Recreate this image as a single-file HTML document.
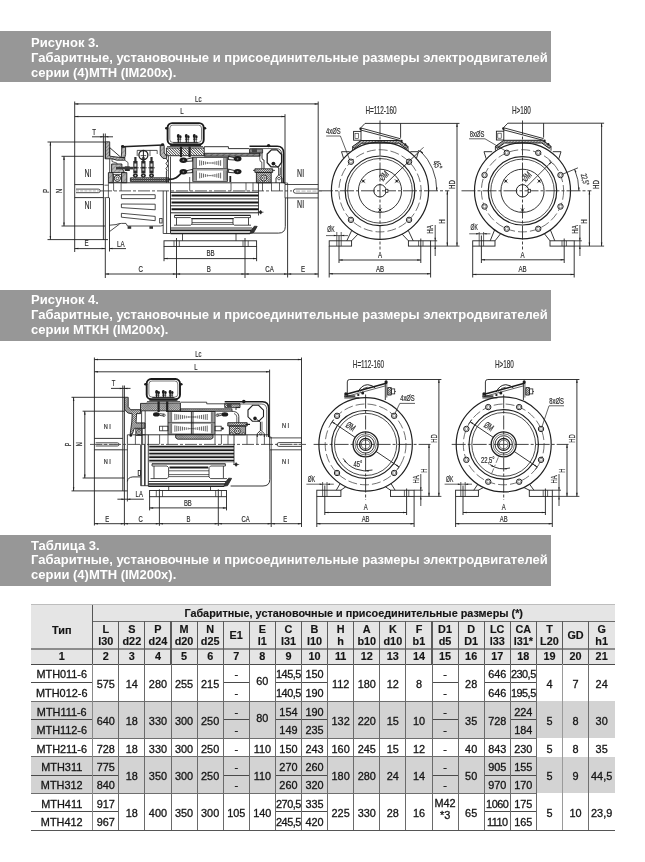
<!DOCTYPE html>
<html><head><meta charset="utf-8">
<style>
html,body{margin:0;padding:0;background:#fff;}
body{width:645px;height:862px;position:relative;overflow:hidden;font-family:"Liberation Sans",sans-serif;}
.bar{will-change:transform;position:absolute;left:0;width:551px;height:51px;background:#979797;color:#fff;font-weight:bold;font-size:13px;line-height:14.75px;}
.bar div{position:absolute;left:31px;top:4.6px;white-space:nowrap;}
.r{position:absolute;}
.c{position:absolute;display:flex;align-items:center;justify-content:center;text-align:center;font-size:10.9px;line-height:12.6px;color:#151515;white-space:nowrap;-webkit-text-stroke:0.3px #151515;}
.c.b{font-weight:bold;font-size:10.85px;line-height:11.7px;-webkit-text-stroke:0.15px #151515;}
.c.n{letter-spacing:-0.5px;}
</style></head><body>
<div class="bar" style="top:31px"><div style="top:5.2px">Рисунок 3.<br>Габаритные, установочные и присоединительные размеры электродвигателей<br>серии (4)МТН (IM200x).</div></div>
<div class="bar" style="top:289.5px"><div style="top:3.4px">Рисунок 4.<br>Габаритные, установочные и присоединительные размеры электродвигателей<br>серии МТКН (IM200x).</div></div>
<div class="bar" style="top:535px"><div style="top:3.5px">Таблица 3.<br>Габаритные, установочные и присоединительные размеры электродвигателей<br>серии (4)МТН (IM200x).</div></div>
<!--SV0--><svg width="645" height="862" viewBox="0 0 645 862" style="position:absolute;left:0;top:0;will-change:transform" font-family="Liberation Sans, sans-serif" stroke-linecap="butt"><defs><clipPath id="h1"><path d="M105.3 141.8 L109.7 141.8 L109.7 156.2 L121.2 157.6 L124.8 157.6 L124.8 160.2 L117 160.2 L112 158.8 L105.3 158.8 Z"/></clipPath><clipPath id="h2"><path d="M121.7 147.2 L125.6 147.2 L125.6 154.5 L124.8 157.6 L121.2 157.6 L121.7 152 Z"/></clipPath><clipPath id="h3"><path d="M160.2 145.6 L164.2 145.4 L164.2 153 L166.6 156 L166.6 158.4 L163 158.4 L160.2 155 Z"/></clipPath><clipPath id="h4"><path d="M130.4 177.8 L168.9 177.8 L168.9 181.6 L130.4 181.6 Z"/></clipPath><clipPath id="h5"><path d="M111.6 164 L121.9 164 L121.9 168 L124.5 172.6 L120.5 172.6 L111.6 172.6 Z"/></clipPath><clipPath id="h6"><path d="M108.4 172.6 L113 172.6 L113 182.7 L108.4 182.7 Z"/></clipPath><clipPath id="h7"><path d="M121.6 172.6 L126.8 172.6 L126.8 182.7 L121.6 182.7 Z"/></clipPath><clipPath id="h8"><path d="M166.4 148 L204.2 148 L204.2 155.7 L166.4 155.7 Z"/></clipPath><clipPath id="h9"><path d="M204.2 153.3 L260 153.3 L260 156.2 L204.2 156.2 Z"/></clipPath><clipPath id="h10"><path d="M249.5 149.2 L262.6 149.2 L262.6 153 L249.5 153 Z"/></clipPath><clipPath id="h11"><path d="M254.9 168.8 L272.7 168.8 L272.7 172.4 L254.9 172.4 Z"/></clipPath><clipPath id="h12"><path d="M256.4 172.4 L271.2 172.4 L271.2 182.8 L256.4 182.8 Z"/></clipPath><clipPath id="h13"><path d="M352.6 146.5 L361 140.5 L399.6 140.5 L408 146.5 L406.4 148.7 L398.8 143.2 L361.8 143.2 L354.2 148.7 Z"/></clipPath><clipPath id="h14"><path d="M495.4 146.3 L503.8 140.3 L542.6 140.3 L551 146.3 L549.4 148.5 L541.8 143 L504.6 143 L497 148.5 Z"/></clipPath><clipPath id="h15"><path d="M124.4 397.3 L128.2 397.3 L128.2 406.6 L130.6 409.7 L140.6 409.7 L140.6 413.6 L136.6 413.6 L136 422.9 L145 422.9 L145 428.3 L134.2 428.3 L132.4 433.8 L130.2 433.8 L131.8 422 L132.2 413.8 L128 413 L124.4 409.6 Z"/></clipPath><clipPath id="h16"><path d="M140.5 403.4 L146.4 403.4 L146.4 403 L180.4 403 L180.4 410.8 L140.5 410.8 Z"/></clipPath><clipPath id="h17"><path d="M180.4 408.8 L232 408.8 L232 411.3 L180.4 411.3 Z"/></clipPath><clipPath id="h18"><path d="M175.7 434.6 L213 434.6 L213 437.8 L211 439.2 L177.6 439.2 L175.7 437.8 Z"/></clipPath><clipPath id="h19"><path d="M224.7 403.6 L240 403.6 L240 407.6 L224.7 407.6 Z"/></clipPath><clipPath id="h20"><path d="M227.8 422.7 L247.2 422.7 L247.2 426 L227.8 426 Z"/></clipPath><clipPath id="h21"><path d="M229.4 426 L245.6 426 L245.6 434.8 L229.4 434.8 Z"/></clipPath><clipPath id="h22"><path d="M387.7 387.5 L391.3 387.5 L391.3 395.1 L387.7 395.1 Z"/></clipPath><clipPath id="h23"><path d="M525.8 387.5 L529.4 387.5 L529.4 395.1 L525.8 395.1 Z"/></clipPath></defs>
<line x1="74.7" y1="101.5" x2="74.7" y2="252" stroke="#202020" stroke-width="0.9"/>
<line x1="285" y1="114.2" x2="285" y2="184.4" stroke="#202020" stroke-width="0.9"/>
<line x1="287.6" y1="198" x2="287.6" y2="277.5" stroke="#202020" stroke-width="0.9"/>
<line x1="318.2" y1="101.5" x2="318.2" y2="277.5" stroke="#202020" stroke-width="0.9"/>
<line x1="74.7" y1="103.9" x2="318.2" y2="103.9" stroke="#202020" stroke-width="0.9"/>
<path d="M74.7 103.9 L78.3 103.15 L78.3 104.65 Z" fill="#202020"/>
<path d="M318.2 103.9 L314.6 104.65 L314.6 103.15 Z" fill="#202020"/>
<line x1="74.7" y1="116.6" x2="285" y2="116.6" stroke="#202020" stroke-width="0.9"/>
<path d="M74.7 116.6 L78.3 115.85 L78.3 117.35 Z" fill="#202020"/>
<path d="M285 116.6 L281.4 117.35 L281.4 115.85 Z" fill="#202020"/>
<text transform="translate(198.3 102) rotate(0) scale(0.64 1)" font-size="9.6" fill="#303030" stroke="#303030" stroke-width="0.22" text-anchor="middle" font-weight="normal">Lc</text>
<text transform="translate(182 113.8) rotate(0) scale(0.64 1)" font-size="9.6" fill="#303030" stroke="#303030" stroke-width="0.22" text-anchor="middle" font-weight="normal">L</text>
<line x1="92" y1="136.8" x2="113" y2="136.8" stroke="#202020" stroke-width="0.9"/>
<path d="M103.4 136.8 L100.4 137.55 L100.4 136.05 Z" fill="#202020"/>
<path d="M105.3 136.8 L108.3 136.05 L108.3 137.55 Z" fill="#202020"/>
<text transform="translate(94.2 134.8) rotate(0) scale(0.64 1)" font-size="9.6" fill="#303030" stroke="#303030" stroke-width="0.22" text-anchor="middle" font-weight="normal">T</text>
<line x1="103.4" y1="133.5" x2="103.4" y2="240" stroke="#202020" stroke-width="0.9"/>
<line x1="105.3" y1="133.5" x2="105.3" y2="158.8" stroke="#202020" stroke-width="0.9"/>
<line x1="47.5" y1="142" x2="105" y2="142" stroke="#202020" stroke-width="0.9"/>
<line x1="47.5" y1="239.6" x2="108" y2="239.6" stroke="#202020" stroke-width="0.9"/>
<line x1="50.4" y1="142" x2="50.4" y2="239.6" stroke="#202020" stroke-width="0.9"/>
<path d="M50.4 142 L51.15 145.6 L49.65 145.6 Z" fill="#202020"/>
<path d="M50.4 239.6 L49.65 236 L51.15 236 Z" fill="#202020"/>
<line x1="61.5" y1="156.3" x2="103.4" y2="156.3" stroke="#202020" stroke-width="0.9"/>
<line x1="61.5" y1="226" x2="105" y2="226" stroke="#202020" stroke-width="0.9"/>
<line x1="64" y1="156.3" x2="64" y2="226" stroke="#202020" stroke-width="0.9"/>
<path d="M64 156.3 L64.75 159.9 L63.25 159.9 Z" fill="#202020"/>
<path d="M64 226 L63.25 222.4 L64.75 222.4 Z" fill="#202020"/>
<text transform="translate(48.6 191) rotate(-90) scale(0.64 1)" font-size="9.6" fill="#303030" stroke="#303030" stroke-width="0.22" text-anchor="middle" font-weight="normal">P</text>
<text transform="translate(62.4 191) rotate(-90) scale(0.64 1)" font-size="9.6" fill="#303030" stroke="#303030" stroke-width="0.22" text-anchor="middle" font-weight="normal">N</text>
<line x1="74.7" y1="184.6" x2="103.4" y2="184.6" stroke="#202020" stroke-width="0.9"/>
<line x1="74.7" y1="197.6" x2="103.4" y2="197.6" stroke="#202020" stroke-width="0.9"/>
<path d="M76 189.1 L98.4 189.1 A1.8 1.8 0 0 1 98.4 192.7 L76 192.7" stroke="#202020" stroke-width="0.8" fill="none" />
<line x1="76" y1="190.9" x2="99" y2="190.9" stroke="#666" stroke-width="0.5" stroke-dasharray="3 1.2"/>
<text transform="translate(88 177.2) rotate(0) scale(0.64 1)" font-size="11" fill="#303030" stroke="#303030" stroke-width="0.22" text-anchor="middle" font-weight="normal">NI</text>
<text transform="translate(88 208.6) rotate(0) scale(0.64 1)" font-size="11" fill="#303030" stroke="#303030" stroke-width="0.22" text-anchor="middle" font-weight="normal">NI</text>
<text transform="translate(300.6 177.2) rotate(0) scale(0.64 1)" font-size="11" fill="#303030" stroke="#303030" stroke-width="0.22" text-anchor="middle" font-weight="normal">NI</text>
<text transform="translate(300.6 208.4) rotate(0) scale(0.64 1)" font-size="11" fill="#303030" stroke="#303030" stroke-width="0.22" text-anchor="middle" font-weight="normal">NI</text>
<line x1="100" y1="190.9" x2="292" y2="190.9" stroke="#444" stroke-width="0.9" stroke-dasharray="12 2 3 2"/>
<path clip-path="url(#h1)" d="M86.9 160.2 L105.3 141.8 M88.3 160.2 L106.7 141.8 M89.7 160.2 L108.1 141.8 M91.1 160.2 L109.5 141.8 M92.5 160.2 L110.9 141.8 M93.9 160.2 L112.3 141.8 M95.3 160.2 L113.7 141.8 M96.7 160.2 L115.1 141.8 M98.1 160.2 L116.5 141.8 M99.5 160.2 L117.9 141.8 M100.9 160.2 L119.3 141.8 M102.3 160.2 L120.7 141.8 M103.7 160.2 L122.1 141.8 M105.1 160.2 L123.5 141.8 M106.5 160.2 L124.9 141.8 M107.9 160.2 L126.3 141.8 M109.3 160.2 L127.7 141.8 M110.7 160.2 L129.1 141.8 M112.1 160.2 L130.5 141.8 M113.5 160.2 L131.9 141.8 M114.9 160.2 L133.3 141.8 M116.3 160.2 L134.7 141.8 M117.7 160.2 L136.1 141.8 M119.1 160.2 L137.5 141.8 M120.5 160.2 L138.9 141.8 M121.9 160.2 L140.3 141.8 M123.3 160.2 L141.7 141.8 M124.7 160.2 L143.1 141.8 M126.1 160.2 L144.5 141.8 M127.5 160.2 L145.9 141.8 M128.9 160.2 L147.3 141.8 M130.3 160.2 L148.7 141.8 M131.7 160.2 L150.1 141.8 M133.1 160.2 L151.5 141.8 M134.5 160.2 L152.9 141.8 M135.9 160.2 L154.3 141.8 M137.3 160.2 L155.7 141.8 M138.7 160.2 L157.1 141.8 M140.1 160.2 L158.5 141.8 M141.5 160.2 L159.9 141.8 M142.9 160.2 L161.3 141.8" stroke="#202020" stroke-width="0.6" fill="none"/>
<path d="M105.3 141.8 L109.7 141.8 L109.7 156.2 L121.2 157.6 L124.8 157.6 L124.8 160.2 L117 160.2 L112 158.8 L105.3 158.8 Z" stroke="#202020" stroke-width="0.9" fill="none" />
<line x1="109.7" y1="147.6" x2="121.2" y2="157.6" stroke="#202020" stroke-width="0.9"/>
<line x1="109.7" y1="147.6" x2="109.7" y2="156" stroke="#202020" stroke-width="0.7"/>
<line x1="121.7" y1="146.7" x2="163.3" y2="144.9" stroke="#202020" stroke-width="1.5"/>
<ellipse cx="122.6" cy="146.3" rx="1.6" ry="1.2" fill="#1c1c1c"/>
<ellipse cx="162.6" cy="144.4" rx="1.6" ry="1.2" fill="#1c1c1c"/>
<path clip-path="url(#h2)" d="M110.8 157.6 L121.2 147.2 M112.1 157.6 L122.5 147.2 M113.4 157.6 L123.8 147.2 M114.7 157.6 L125.1 147.2 M116 157.6 L126.4 147.2 M117.3 157.6 L127.7 147.2 M118.6 157.6 L129 147.2 M119.9 157.6 L130.3 147.2 M121.2 157.6 L131.6 147.2 M122.5 157.6 L132.9 147.2 M123.8 157.6 L134.2 147.2 M125.1 157.6 L135.5 147.2 M126.4 157.6 L136.8 147.2 M127.7 157.6 L138.1 147.2 M129 157.6 L139.4 147.2 M130.3 157.6 L140.7 147.2 M131.6 157.6 L142 147.2 M132.9 157.6 L143.3 147.2 M134.2 157.6 L144.6 147.2 M135.5 157.6 L145.9 147.2" stroke="#202020" stroke-width="0.5" fill="none"/>
<path d="M121.7 147.2 L125.6 147.2 L125.6 154.5 L124.8 157.6 L121.2 157.6 L121.7 152 Z" stroke="#202020" stroke-width="0.9" fill="none" />
<path clip-path="url(#h3)" d="M147.2 158.4 L160.2 145.4 M148.5 158.4 L161.5 145.4 M149.8 158.4 L162.8 145.4 M151.1 158.4 L164.1 145.4 M152.4 158.4 L165.4 145.4 M153.7 158.4 L166.7 145.4 M155 158.4 L168 145.4 M156.3 158.4 L169.3 145.4 M157.6 158.4 L170.6 145.4 M158.9 158.4 L171.9 145.4 M160.2 158.4 L173.2 145.4 M161.5 158.4 L174.5 145.4 M162.8 158.4 L175.8 145.4 M164.1 158.4 L177.1 145.4 M165.4 158.4 L178.4 145.4 M166.7 158.4 L179.7 145.4 M168 158.4 L181 145.4 M169.3 158.4 L182.3 145.4 M170.6 158.4 L183.6 145.4 M171.9 158.4 L184.9 145.4 M173.2 158.4 L186.2 145.4 M174.5 158.4 L187.5 145.4 M175.8 158.4 L188.8 145.4 M177.1 158.4 L190.1 145.4 M178.4 158.4 L191.4 145.4" stroke="#202020" stroke-width="0.5" fill="none"/>
<path d="M160.2 145.6 L164.2 145.4 L164.2 153 L166.6 156 L166.6 158.4 L163 158.4 L160.2 155 Z" stroke="#202020" stroke-width="0.9" fill="none" />
<path d="M166.2 158.4 L167.8 161 L166 163.5 L167.8 166 L166 168.5 L167.2 171" stroke="#202020" stroke-width="0.9" fill="none" />
<line x1="166.4" y1="171" x2="166.4" y2="182.7" stroke="#202020" stroke-width="0.9"/>
<line x1="168.4" y1="156" x2="168.4" y2="182.7" stroke="#202020" stroke-width="0.8"/>
<line x1="137.2" y1="150.4" x2="157.2" y2="150.4" stroke="#202020" stroke-width="0.8"/>
<line x1="137.2" y1="150.4" x2="137.2" y2="156" stroke="#202020" stroke-width="0.7"/>
<line x1="150" y1="150.4" x2="150" y2="156" stroke="#202020" stroke-width="0.7"/>
<line x1="157.2" y1="150.4" x2="157.2" y2="154" stroke="#202020" stroke-width="0.7"/>
<circle cx="143.4" cy="155" r="4.5" stroke="#202020" stroke-width="1.3" fill="#fff"/>
<line x1="143.4" y1="150.4" x2="143.4" y2="162" stroke="#202020" stroke-width="1.0"/>
<line x1="140.6" y1="155.6" x2="146.2" y2="155.6" stroke="#202020" stroke-width="0.7"/>
<rect x="133.3" y="161" width="4.2" height="12.5" fill="#2a2a2a"/>
<rect x="134.3" y="157" width="2.2" height="4.5" fill="#2a2a2a"/>
<rect x="134.4" y="163.5" width="2" height="3.2" fill="#ddd"/>
<rect x="134.4" y="168.5" width="2" height="2.2" fill="#bbb"/>
<line x1="132" y1="167.8" x2="138.8" y2="167.8" stroke="#202020" stroke-width="0.7"/>
<ellipse cx="135.4" cy="175.6" rx="2.5" ry="2.1" fill="#1c1c1c"/>
<circle cx="135.4" cy="175.6" r="0.9" fill="#ccc"/>
<rect x="141.3" y="161" width="4.2" height="12.5" fill="#2a2a2a"/>
<rect x="142.3" y="157" width="2.2" height="4.5" fill="#2a2a2a"/>
<rect x="142.4" y="163.5" width="2" height="3.2" fill="#ddd"/>
<rect x="142.4" y="168.5" width="2" height="2.2" fill="#bbb"/>
<line x1="140" y1="167.8" x2="146.8" y2="167.8" stroke="#202020" stroke-width="0.7"/>
<ellipse cx="143.4" cy="175.6" rx="2.5" ry="2.1" fill="#1c1c1c"/>
<circle cx="143.4" cy="175.6" r="0.9" fill="#ccc"/>
<rect x="149.4" y="161" width="4.2" height="12.5" fill="#2a2a2a"/>
<rect x="150.4" y="157" width="2.2" height="4.5" fill="#2a2a2a"/>
<rect x="150.5" y="163.5" width="2" height="3.2" fill="#ddd"/>
<rect x="150.5" y="168.5" width="2" height="2.2" fill="#bbb"/>
<line x1="148.1" y1="167.8" x2="154.9" y2="167.8" stroke="#202020" stroke-width="0.7"/>
<ellipse cx="151.5" cy="175.6" rx="2.5" ry="2.1" fill="#1c1c1c"/>
<circle cx="151.5" cy="175.6" r="0.9" fill="#ccc"/>
<path clip-path="url(#h4)" d="M126.6 181.6 L130.4 177.8 M126.6 177.8 L130.4 181.6 M128.5 181.6 L132.3 177.8 M128.5 177.8 L132.3 181.6 M130.4 181.6 L134.2 177.8 M130.4 177.8 L134.2 181.6 M132.3 181.6 L136.1 177.8 M132.3 177.8 L136.1 181.6 M134.2 181.6 L138 177.8 M134.2 177.8 L138 181.6 M136.1 181.6 L139.9 177.8 M136.1 177.8 L139.9 181.6 M138 181.6 L141.8 177.8 M138 177.8 L141.8 181.6 M139.9 181.6 L143.7 177.8 M139.9 177.8 L143.7 181.6 M141.8 181.6 L145.6 177.8 M141.8 177.8 L145.6 181.6 M143.7 181.6 L147.5 177.8 M143.7 177.8 L147.5 181.6 M145.6 181.6 L149.4 177.8 M145.6 177.8 L149.4 181.6 M147.5 181.6 L151.3 177.8 M147.5 177.8 L151.3 181.6 M149.4 181.6 L153.2 177.8 M149.4 177.8 L153.2 181.6 M151.3 181.6 L155.1 177.8 M151.3 177.8 L155.1 181.6 M153.2 181.6 L157 177.8 M153.2 177.8 L157 181.6 M155.1 181.6 L158.9 177.8 M155.1 177.8 L158.9 181.6 M157 181.6 L160.8 177.8 M157 177.8 L160.8 181.6 M158.9 181.6 L162.7 177.8 M158.9 177.8 L162.7 181.6 M160.8 181.6 L164.6 177.8 M160.8 177.8 L164.6 181.6 M162.7 181.6 L166.5 177.8 M162.7 177.8 L166.5 181.6 M164.6 181.6 L168.4 177.8 M164.6 177.8 L168.4 181.6 M166.5 181.6 L170.3 177.8 M166.5 177.8 L170.3 181.6 M168.4 181.6 L172.2 177.8 M168.4 177.8 L172.2 181.6 M170.3 181.6 L174.1 177.8 M170.3 177.8 L174.1 181.6 M172.2 181.6 L176 177.8 M172.2 177.8 L176 181.6" stroke="#202020" stroke-width="0.5" fill="none"/>
<path d="M130.4 177.8 L168.9 177.8 L168.9 181.6 L130.4 181.6 Z" stroke="#202020" stroke-width="0.9" fill="none" />
<line x1="130.4" y1="179.7" x2="168.9" y2="179.7" stroke="#202020" stroke-width="1.1"/>
<path d="M168.9 179.4 C176 179.2 178 176.5 181.5 172.8" stroke="#1a1a1a" stroke-width="1.7" fill="none" />
<path clip-path="url(#h5)" d="M103 172.6 L111.6 164 M104.3 172.6 L112.9 164 M105.6 172.6 L114.2 164 M106.9 172.6 L115.5 164 M108.2 172.6 L116.8 164 M109.5 172.6 L118.1 164 M110.8 172.6 L119.4 164 M112.1 172.6 L120.7 164 M113.4 172.6 L122 164 M114.7 172.6 L123.3 164 M116 172.6 L124.6 164 M117.3 172.6 L125.9 164 M118.6 172.6 L127.2 164 M119.9 172.6 L128.5 164 M121.2 172.6 L129.8 164 M122.5 172.6 L131.1 164 M123.8 172.6 L132.4 164 M125.1 172.6 L133.7 164 M126.4 172.6 L135 164 M127.7 172.6 L136.3 164 M129 172.6 L137.6 164 M130.3 172.6 L138.9 164 M131.6 172.6 L140.2 164 M132.9 172.6 L141.5 164" stroke="#202020" stroke-width="0.5" fill="none"/>
<path d="M111.6 164 L121.9 164 L121.9 168 L124.5 172.6 L120.5 172.6 L111.6 172.6 Z" stroke="#202020" stroke-width="0.9" fill="none" />
<path clip-path="url(#h6)" d="M98.3 182.7 L108.4 172.6 M99.5 182.7 L109.6 172.6 M100.7 182.7 L110.8 172.6 M101.9 182.7 L112 172.6 M103.1 182.7 L113.2 172.6 M104.3 182.7 L114.4 172.6 M105.5 182.7 L115.6 172.6 M106.7 182.7 L116.8 172.6 M107.9 182.7 L118 172.6 M109.1 182.7 L119.2 172.6 M110.3 182.7 L120.4 172.6 M111.5 182.7 L121.6 172.6 M112.7 182.7 L122.8 172.6 M113.9 182.7 L124 172.6 M115.1 182.7 L125.2 172.6 M116.3 182.7 L126.4 172.6 M117.5 182.7 L127.6 172.6 M118.7 182.7 L128.8 172.6 M119.9 182.7 L130 172.6 M121.1 182.7 L131.2 172.6 M122.3 182.7 L132.4 172.6" stroke="#202020" stroke-width="0.5" fill="none"/>
<path d="M108.4 172.6 L113 172.6 L113 182.7 L108.4 182.7 Z" stroke="#202020" stroke-width="0.9" fill="none" />
<path clip-path="url(#h7)" d="M111.5 182.7 L121.6 172.6 M112.7 182.7 L122.8 172.6 M113.9 182.7 L124 172.6 M115.1 182.7 L125.2 172.6 M116.3 182.7 L126.4 172.6 M117.5 182.7 L127.6 172.6 M118.7 182.7 L128.8 172.6 M119.9 182.7 L130 172.6 M121.1 182.7 L131.2 172.6 M122.3 182.7 L132.4 172.6 M123.5 182.7 L133.6 172.6 M124.7 182.7 L134.8 172.6 M125.9 182.7 L136 172.6 M127.1 182.7 L137.2 172.6 M128.3 182.7 L138.4 172.6 M129.5 182.7 L139.6 172.6 M130.7 182.7 L140.8 172.6 M131.9 182.7 L142 172.6 M133.1 182.7 L143.2 172.6 M134.3 182.7 L144.4 172.6 M135.5 182.7 L145.6 172.6 M136.7 182.7 L146.8 172.6" stroke="#202020" stroke-width="0.5" fill="none"/>
<path d="M121.6 172.6 L126.8 172.6 L126.8 182.7 L121.6 182.7 Z" stroke="#202020" stroke-width="0.9" fill="none" />
<circle cx="117.4" cy="178.3" r="3.1" stroke="#202020" stroke-width="1.0" fill="none"/>
<circle cx="117.4" cy="178.3" r="1.4" stroke="#202020" stroke-width="0.8" fill="none"/>
<rect x="113.4" y="174.4" width="8" height="7.8" stroke="#202020" stroke-width="0.7" fill="none"/>
<rect x="124.8" y="166.4" width="5" height="4.6" fill="#2a2a2a"/>
<rect x="116" y="166.8" width="17" height="2.6" fill="#3a3a3a"/>
<line x1="109.7" y1="158.8" x2="109.7" y2="172.6" stroke="#202020" stroke-width="0.8"/>
<path d="M112 158.8 L112 161.5 L117 163.2 L117 164" stroke="#202020" stroke-width="0.7" fill="none" />
<line x1="124.8" y1="160.2" x2="128" y2="162.5" stroke="#202020" stroke-width="0.7"/>
<line x1="128" y1="162.5" x2="128" y2="166.8" stroke="#202020" stroke-width="0.7"/>
<line x1="108.4" y1="182.8" x2="285" y2="182.8" stroke="#202020" stroke-width="0.9"/>
<line x1="113.6" y1="182.8" x2="113.6" y2="190.9" stroke="#202020" stroke-width="0.7"/>
<line x1="121.1" y1="182.8" x2="121.1" y2="190.9" stroke="#202020" stroke-width="0.7"/>
<line x1="104.4" y1="185.2" x2="108.4" y2="185.2" stroke="#202020" stroke-width="0.7"/>
<line x1="108.4" y1="182.8" x2="108.4" y2="198" stroke="#202020" stroke-width="0.7"/>
<line x1="105.3" y1="198" x2="105.3" y2="278" stroke="#202020" stroke-width="0.9"/>
<line x1="109.5" y1="198" x2="109.5" y2="251.5" stroke="#202020" stroke-width="0.9"/>
<line x1="104.4" y1="197.6" x2="109.5" y2="197.6" stroke="#202020" stroke-width="0.7"/>
<path d="M121.4 194.7 L155.2 194.7 L155.2 198.6 L121.4 198.6 Z" stroke="#202020" stroke-width="0.8" fill="none" />
<path d="M121.4 204 L155.2 204.2 L155.2 209.8 L121.4 207.6 Z" stroke="#202020" stroke-width="0.8" fill="none" />
<path d="M121.4 213.3 L155.2 216.4 L155.2 220.7 L121.4 217.2 Z" stroke="#202020" stroke-width="0.8" fill="none" />
<path d="M109.5 225.2 L116 224.6 Q119 223.4 121.5 223.4 L126 223.4 L127.5 226 L160.5 226 L163.2 225.4" stroke="#202020" stroke-width="0.8" fill="none" />
<line x1="109.5" y1="231.6" x2="119.6" y2="224" stroke="#202020" stroke-width="0.8"/>
<rect x="127.6" y="226.2" width="3.6" height="2.6" fill="#333"/>
<rect x="149.4" y="226.2" width="3.6" height="2.6" fill="#333"/>
<rect x="159.7" y="218.4" width="2.4" height="4.6" stroke="#202020" stroke-width="0.8" fill="none"/>
<line x1="163.2" y1="190.9" x2="163.2" y2="233.5" stroke="#202020" stroke-width="0.8"/>
<line x1="166.6" y1="190.9" x2="166.6" y2="233.5" stroke="#202020" stroke-width="0.8"/>
<line x1="163.2" y1="233.5" x2="170.5" y2="233.5" stroke="#202020" stroke-width="0.8"/>
<line x1="170.5" y1="183" x2="170.5" y2="233.5" stroke="#202020" stroke-width="0.9"/>
<line x1="170.5" y1="192.3" x2="258.5" y2="192.3" stroke="#202020" stroke-width="1.0"/>
<line x1="170.5" y1="198.9" x2="258.5" y2="198.9" stroke="#202020" stroke-width="1.0"/>
<line x1="170.5" y1="205.8" x2="258.5" y2="205.8" stroke="#202020" stroke-width="1.0"/>
<line x1="170.5" y1="212.8" x2="258.5" y2="212.8" stroke="#202020" stroke-width="1.0"/>
<line x1="171.5" y1="195.6" x2="258.5" y2="195.6" stroke="#161616" stroke-width="2.0"/>
<line x1="171.5" y1="202.4" x2="258.5" y2="202.4" stroke="#161616" stroke-width="2.0"/>
<line x1="171.5" y1="209.2" x2="258.5" y2="209.2" stroke="#161616" stroke-width="2.0"/>
<line x1="258.5" y1="183" x2="258.5" y2="215.5" stroke="#202020" stroke-width="0.8"/>
<line x1="174.5" y1="215.4" x2="250.5" y2="215.4" stroke="#202020" stroke-width="1.3"/>
<path d="M174.5 215.4 V217.6 H176.5 V225.2 H174 M176.5 217.6 H190.5 L192 219 V224 L190.5 225.2 H176.5" stroke="#202020" stroke-width="0.8" fill="none" />
<path d="M250.5 215.4 V217.6 H248.5 V225.2 H251 M248.5 217.6 H234.5 L233 219 V224 L234.5 225.2 H248.5" stroke="#202020" stroke-width="0.8" fill="none" />
<line x1="192" y1="218.6" x2="233" y2="218.6" stroke="#202020" stroke-width="1.1"/>
<line x1="192" y1="222.6" x2="233" y2="222.6" stroke="#202020" stroke-width="0.7"/>
<line x1="192" y1="224.4" x2="233" y2="224.4" stroke="#202020" stroke-width="0.7"/>
<line x1="170.5" y1="228" x2="252" y2="228" stroke="#202020" stroke-width="0.9"/>
<line x1="170.5" y1="230.4" x2="251" y2="230.4" stroke="#202020" stroke-width="1.6"/>
<line x1="170.5" y1="233.5" x2="250" y2="233.5" stroke="#202020" stroke-width="1.7"/>
<path d="M250 233.5 L253.3 233.1 L257.2 226.4 L254.4 226.2 L251 230.4 Z" stroke="#202020" stroke-width="0.8" fill="#333" />
<line x1="182.5" y1="233.5" x2="182.5" y2="240.8" stroke="#202020" stroke-width="0.8"/>
<line x1="236" y1="233.5" x2="236" y2="240.8" stroke="#202020" stroke-width="0.8"/>
<rect x="164" y="240.8" width="92.6" height="5.6" stroke="#202020" stroke-width="0.9" fill="none"/>
<line x1="174" y1="240.8" x2="174" y2="246.4" stroke="#202020" stroke-width="0.7"/>
<line x1="179.3" y1="240.8" x2="179.3" y2="246.4" stroke="#202020" stroke-width="0.7"/>
<line x1="243" y1="240.8" x2="243" y2="246.4" stroke="#202020" stroke-width="0.7"/>
<line x1="248.2" y1="240.8" x2="248.2" y2="246.4" stroke="#202020" stroke-width="0.7"/>
<line x1="164" y1="246.4" x2="164" y2="261.2" stroke="#202020" stroke-width="0.9"/>
<line x1="256.6" y1="246.4" x2="256.6" y2="261.2" stroke="#202020" stroke-width="0.9"/>
<line x1="164" y1="258.6" x2="256.6" y2="258.6" stroke="#202020" stroke-width="0.9"/>
<path d="M164 258.6 L167.6 257.85 L167.6 259.35 Z" fill="#202020"/>
<path d="M256.6 258.6 L253 259.35 L253 257.85 Z" fill="#202020"/>
<text transform="translate(210.5 256.3) rotate(0) scale(0.64 1)" font-size="9.6" fill="#303030" stroke="#303030" stroke-width="0.22" text-anchor="middle" font-weight="normal">BB</text>
<line x1="176.5" y1="238" x2="176.5" y2="278" stroke="#202020" stroke-width="0.9"/>
<line x1="245" y1="238" x2="245" y2="278" stroke="#202020" stroke-width="0.9"/>
<line x1="105.3" y1="274" x2="176.5" y2="274" stroke="#202020" stroke-width="0.9"/>
<path d="M105.3 274 L108.9 273.25 L108.9 274.75 Z" fill="#202020"/>
<path d="M176.5 274 L172.9 274.75 L172.9 273.25 Z" fill="#202020"/>
<line x1="176.5" y1="274" x2="245" y2="274" stroke="#202020" stroke-width="0.9"/>
<path d="M176.5 274 L180.1 273.25 L180.1 274.75 Z" fill="#202020"/>
<path d="M245 274 L241.4 274.75 L241.4 273.25 Z" fill="#202020"/>
<line x1="245" y1="274" x2="287.6" y2="274" stroke="#202020" stroke-width="0.9"/>
<path d="M245 274 L248.6 273.25 L248.6 274.75 Z" fill="#202020"/>
<path d="M287.6 274 L284 274.75 L284 273.25 Z" fill="#202020"/>
<line x1="287.6" y1="274" x2="318.2" y2="274" stroke="#202020" stroke-width="0.9"/>
<path d="M287.6 274 L291.2 273.25 L291.2 274.75 Z" fill="#202020"/>
<path d="M318.2 274 L314.6 274.75 L314.6 273.25 Z" fill="#202020"/>
<text transform="translate(140.6 271.8) rotate(0) scale(0.64 1)" font-size="9.6" fill="#303030" stroke="#303030" stroke-width="0.22" text-anchor="middle" font-weight="normal">C</text>
<text transform="translate(208.8 271.8) rotate(0) scale(0.64 1)" font-size="9.6" fill="#303030" stroke="#303030" stroke-width="0.22" text-anchor="middle" font-weight="normal">B</text>
<text transform="translate(269.6 271.8) rotate(0) scale(0.64 1)" font-size="9.6" fill="#303030" stroke="#303030" stroke-width="0.22" text-anchor="middle" font-weight="normal">CA</text>
<text transform="translate(303 271.8) rotate(0) scale(0.64 1)" font-size="9.6" fill="#303030" stroke="#303030" stroke-width="0.22" text-anchor="middle" font-weight="normal">E</text>
<line x1="74.7" y1="248.6" x2="105.3" y2="248.6" stroke="#202020" stroke-width="0.9"/>
<path d="M74.7 248.6 L78.3 247.85 L78.3 249.35 Z" fill="#202020"/>
<path d="M105.3 248.6 L101.7 249.35 L101.7 247.85 Z" fill="#202020"/>
<text transform="translate(86.6 246.4) rotate(0) scale(0.64 1)" font-size="9.6" fill="#303030" stroke="#303030" stroke-width="0.22" text-anchor="middle" font-weight="normal">E</text>
<line x1="109.5" y1="248.6" x2="126" y2="248.6" stroke="#202020" stroke-width="0.9"/>
<path d="M109.5 248.6 L112.5 247.85 L112.5 249.35 Z" fill="#202020"/>
<text transform="translate(120.8 247.2) rotate(0) scale(0.64 1)" font-size="9.6" fill="#303030" stroke="#303030" stroke-width="0.22" text-anchor="middle" font-weight="normal">LA</text>
<rect x="167.6" y="123.1" width="36.1" height="21.4" stroke="#1a1a1a" stroke-width="1.9" fill="none" rx="4.5"/>
<rect x="169.8" y="125.1" width="31.7" height="17.3" stroke="#202020" stroke-width="0.6" fill="none" rx="3"/>
<ellipse cx="166.6" cy="128.3" rx="1.6" ry="1.2" fill="#1c1c1c"/>
<ellipse cx="204.7" cy="128.3" rx="1.6" ry="1.2" fill="#1c1c1c"/>
<line x1="170.2" y1="145.4" x2="201.1" y2="145.4" stroke="#202020" stroke-width="1.4"/>
<line x1="173.2" y1="142.8" x2="198.1" y2="142.8" stroke="#202020" stroke-width="0.9"/>
<ellipse cx="178.3" cy="136.1" rx="1.5" ry="2" fill="#1c1c1c"/>
<ellipse cx="180.5" cy="136.7" rx="1.1" ry="1.5" fill="#1c1c1c"/>
<line x1="178.3" y1="134.7" x2="178.3" y2="142.8" stroke="#202020" stroke-width="1.3"/>
<line x1="180.2" y1="135.7" x2="180.2" y2="142.8" stroke="#202020" stroke-width="0.8"/>
<line x1="177" y1="139.2" x2="181.3" y2="139.2" stroke="#202020" stroke-width="0.8"/>
<ellipse cx="186.3" cy="136.1" rx="1.5" ry="2" fill="#1c1c1c"/>
<ellipse cx="188.5" cy="136.7" rx="1.1" ry="1.5" fill="#1c1c1c"/>
<line x1="186.3" y1="134.7" x2="186.3" y2="142.8" stroke="#202020" stroke-width="1.3"/>
<line x1="188.2" y1="135.7" x2="188.2" y2="142.8" stroke="#202020" stroke-width="0.8"/>
<line x1="185" y1="139.2" x2="189.3" y2="139.2" stroke="#202020" stroke-width="0.8"/>
<ellipse cx="194.3" cy="136.1" rx="1.5" ry="2" fill="#1c1c1c"/>
<ellipse cx="196.5" cy="136.7" rx="1.1" ry="1.5" fill="#1c1c1c"/>
<line x1="194.3" y1="134.7" x2="194.3" y2="142.8" stroke="#202020" stroke-width="1.3"/>
<line x1="196.2" y1="135.7" x2="196.2" y2="142.8" stroke="#202020" stroke-width="0.8"/>
<line x1="193" y1="139.2" x2="197.3" y2="139.2" stroke="#202020" stroke-width="0.8"/>
<path clip-path="url(#h8)" d="M158.7 148 L166.4 155.7 M161.3 148 L169 155.7 M163.9 148 L171.6 155.7 M166.5 148 L174.2 155.7 M169.1 148 L176.8 155.7 M171.7 148 L179.4 155.7 M174.3 148 L182 155.7 M176.9 148 L184.6 155.7 M179.5 148 L187.2 155.7 M182.1 148 L189.8 155.7 M184.7 148 L192.4 155.7 M187.3 148 L195 155.7 M189.9 148 L197.6 155.7 M192.5 148 L200.2 155.7 M195.1 148 L202.8 155.7 M197.7 148 L205.4 155.7 M200.3 148 L208 155.7 M202.9 148 L210.6 155.7 M205.5 148 L213.2 155.7 M208.1 148 L215.8 155.7 M210.7 148 L218.4 155.7" stroke="#202020" stroke-width="0.9" fill="none"/>
<path d="M166.4 148 L204.2 148 L204.2 155.7 L166.4 155.7 Z" stroke="#202020" stroke-width="0.9" fill="none" />
<line x1="167" y1="146.6" x2="203" y2="146.6" stroke="#202020" stroke-width="0.8"/>
<rect x="179.9" y="146.6" width="2.2" height="10.6" fill="#222"/>
<rect x="188.5" y="146.6" width="2.2" height="10.6" fill="#222"/>
<path d="M204.2 148 V146.7 H228.4 V148.6 H249.5" stroke="#202020" stroke-width="0.9" fill="none" />
<path clip-path="url(#h9)" d="M201.3 156.2 L204.2 153.3 M202.5 156.2 L205.4 153.3 M203.7 156.2 L206.6 153.3 M204.9 156.2 L207.8 153.3 M206.1 156.2 L209 153.3 M207.3 156.2 L210.2 153.3 M208.5 156.2 L211.4 153.3 M209.7 156.2 L212.6 153.3 M210.9 156.2 L213.8 153.3 M212.1 156.2 L215 153.3 M213.3 156.2 L216.2 153.3 M214.5 156.2 L217.4 153.3 M215.7 156.2 L218.6 153.3 M216.9 156.2 L219.8 153.3 M218.1 156.2 L221 153.3 M219.3 156.2 L222.2 153.3 M220.5 156.2 L223.4 153.3 M221.7 156.2 L224.6 153.3 M222.9 156.2 L225.8 153.3 M224.1 156.2 L227 153.3 M225.3 156.2 L228.2 153.3 M226.5 156.2 L229.4 153.3 M227.7 156.2 L230.6 153.3 M228.9 156.2 L231.8 153.3 M230.1 156.2 L233 153.3 M231.3 156.2 L234.2 153.3 M232.5 156.2 L235.4 153.3 M233.7 156.2 L236.6 153.3 M234.9 156.2 L237.8 153.3 M236.1 156.2 L239 153.3 M237.3 156.2 L240.2 153.3 M238.5 156.2 L241.4 153.3 M239.7 156.2 L242.6 153.3 M240.9 156.2 L243.8 153.3 M242.1 156.2 L245 153.3 M243.3 156.2 L246.2 153.3 M244.5 156.2 L247.4 153.3 M245.7 156.2 L248.6 153.3 M246.9 156.2 L249.8 153.3 M248.1 156.2 L251 153.3 M249.3 156.2 L252.2 153.3 M250.5 156.2 L253.4 153.3 M251.7 156.2 L254.6 153.3 M252.9 156.2 L255.8 153.3 M254.1 156.2 L257 153.3 M255.3 156.2 L258.2 153.3 M256.5 156.2 L259.4 153.3 M257.7 156.2 L260.6 153.3 M258.9 156.2 L261.8 153.3 M260.1 156.2 L263 153.3 M261.3 156.2 L264.2 153.3 M262.5 156.2 L265.4 153.3" stroke="#202020" stroke-width="0.7" fill="none"/>
<path d="M204.2 153.3 L260 153.3 L260 156.2 L204.2 156.2 Z" stroke="#202020" stroke-width="0.9" fill="none" />
<rect x="192.8" y="157.3" width="34.6" height="24" stroke="#202020" stroke-width="0.9" fill="none"/>
<line x1="192.8" y1="168.6" x2="227.4" y2="168.6" stroke="#202020" stroke-width="0.8"/>
<line x1="192.8" y1="169.9" x2="227.4" y2="169.9" stroke="#202020" stroke-width="0.6"/>
<path d="M193.8 158 V168 M226.4 158 V168 M195.1 158 V168 M225.1 158 V168 M196.4 158 V168 M223.8 158 V168 M199.7 160.2 V165.8 M201.6 160.63 V165.37 M203.5 161.07 V164.93 M205.4 161.51 V164.49 M207.3 161.95 V164.05 M209.2 162.39 V163.61 M211.1 162.37 V163.63 M213 161.93 V164.07 M214.9 161.49 V164.51 M216.8 161.05 V164.95 M218.7 160.61 V165.39 M220.6 160.17 V165.83" stroke="#2a2a2a" stroke-width="0.7" fill="none" />
<line x1="207.1" y1="163" x2="213.1" y2="163" stroke="#555" stroke-width="0.6" stroke-dasharray="1.5 1"/>
<path d="M193.8 170.5 V180.6 M226.4 170.5 V180.6 M195.1 170.5 V180.6 M225.1 170.5 V180.6 M196.4 170.5 V180.6 M223.8 170.5 V180.6 M199.7 172.72 V178.38 M201.6 173.16 V177.94 M203.5 173.6 V177.5 M205.4 174.05 V177.05 M207.3 174.49 V176.61 M209.2 174.94 V176.16 M211.1 174.92 V176.18 M213 174.47 V176.63 M214.9 174.03 V177.07 M216.8 173.58 V177.52 M218.7 173.14 V177.96 M220.6 172.69 V178.41" stroke="#2a2a2a" stroke-width="0.7" fill="none" />
<line x1="207.1" y1="175.55" x2="213.1" y2="175.55" stroke="#555" stroke-width="0.6" stroke-dasharray="1.5 1"/>
<line x1="170.5" y1="183" x2="170.5" y2="156.6" stroke="#202020" stroke-width="0.8"/>
<ellipse cx="183.4" cy="160.2" rx="3.9" ry="2.7" fill="#1c1c1c"/>
<circle cx="183.4" cy="160.2" r="0.9" fill="#777"/>
<line x1="187" y1="159" x2="192.4" y2="157.8" stroke="#202020" stroke-width="0.9"/>
<line x1="187" y1="161.4" x2="192.4" y2="161" stroke="#202020" stroke-width="0.9"/>
<line x1="192.4" y1="157.4" x2="192.4" y2="161.4" stroke="#202020" stroke-width="0.9"/>
<ellipse cx="183.4" cy="171.8" rx="3.9" ry="2.7" fill="#1c1c1c"/>
<circle cx="183.4" cy="171.8" r="0.9" fill="#777"/>
<line x1="187" y1="170.6" x2="192.4" y2="169.4" stroke="#202020" stroke-width="0.9"/>
<line x1="187" y1="173" x2="192.4" y2="172.6" stroke="#202020" stroke-width="0.9"/>
<line x1="192.4" y1="169" x2="192.4" y2="173" stroke="#202020" stroke-width="0.9"/>
<ellipse cx="237.6" cy="158.8" rx="3.9" ry="2.7" fill="#1c1c1c"/>
<circle cx="237.6" cy="158.8" r="0.9" fill="#777"/>
<line x1="234" y1="157.6" x2="228.6" y2="156.4" stroke="#202020" stroke-width="0.9"/>
<line x1="234" y1="160" x2="228.6" y2="159.6" stroke="#202020" stroke-width="0.9"/>
<line x1="228.6" y1="156" x2="228.6" y2="160" stroke="#202020" stroke-width="0.9"/>
<ellipse cx="237.6" cy="171.6" rx="3.9" ry="2.7" fill="#1c1c1c"/>
<circle cx="237.6" cy="171.6" r="0.9" fill="#777"/>
<line x1="234" y1="170.4" x2="228.6" y2="169.2" stroke="#202020" stroke-width="0.9"/>
<line x1="234" y1="172.8" x2="228.6" y2="172.4" stroke="#202020" stroke-width="0.9"/>
<line x1="228.6" y1="168.8" x2="228.6" y2="172.8" stroke="#202020" stroke-width="0.9"/>
<rect x="229.4" y="176" width="1.8" height="6" fill="#222"/>
<line x1="189.7" y1="177" x2="189.7" y2="190.9" stroke="#202020" stroke-width="0.7"/>
<line x1="231" y1="182.8" x2="231" y2="190.9" stroke="#202020" stroke-width="0.7"/>
<line x1="246" y1="182.8" x2="246" y2="190.9" stroke="#202020" stroke-width="0.7"/>
<line x1="253" y1="182.8" x2="253" y2="190.9" stroke="#202020" stroke-width="0.7"/>
<line x1="262.5" y1="182.8" x2="262.5" y2="190.9" stroke="#202020" stroke-width="0.7"/>
<line x1="271.5" y1="182.8" x2="271.5" y2="190.9" stroke="#202020" stroke-width="0.7"/>
<line x1="279.5" y1="182.8" x2="279.5" y2="190.9" stroke="#202020" stroke-width="0.7"/>
<path d="M249.5 146.3 H277.2 Q283.6 146.3 283.6 153 V183" stroke="#1a1a1a" stroke-width="1.6" fill="none" />
<path d="M250 148.6 H276 Q281.6 148.6 281.6 154 V183" stroke="#202020" stroke-width="0.7" fill="none" />
<ellipse cx="268.6" cy="145.6" rx="1.7" ry="1.7" fill="#1c1c1c"/>
<path clip-path="url(#h10)" d="M245.7 153 L249.5 149.2 M246.8 153 L250.6 149.2 M247.9 153 L251.7 149.2 M249 153 L252.8 149.2 M250.1 153 L253.9 149.2 M251.2 153 L255 149.2 M252.3 153 L256.1 149.2 M253.4 153 L257.2 149.2 M254.5 153 L258.3 149.2 M255.6 153 L259.4 149.2 M256.7 153 L260.5 149.2 M257.8 153 L261.6 149.2 M258.9 153 L262.7 149.2 M260 153 L263.8 149.2 M261.1 153 L264.9 149.2 M262.2 153 L266 149.2 M263.3 153 L267.1 149.2 M264.4 153 L268.2 149.2 M265.5 153 L269.3 149.2" stroke="#202020" stroke-width="0.6" fill="none"/>
<path d="M249.5 149.2 L262.6 149.2 L262.6 153 L249.5 153 Z" stroke="#202020" stroke-width="0.8" fill="none" />
<rect x="252" y="148.6" width="5" height="3.8" fill="#444"/>
<path d="M262 153 V158 Q262 160 264 160 V168.8" stroke="#202020" stroke-width="0.9" fill="none" />
<path d="M259.8 153 V159.5 Q259.8 162 261.8 162 V168.8" stroke="#202020" stroke-width="0.7" fill="none" />
<path d="M271.4 149.8 H277 L281.6 154.6 V162.4 L278.4 166.8 H271 L267.2 162.8 V154 Z" stroke="#202020" stroke-width="1.3" fill="none" />
<ellipse cx="273.4" cy="163.6" rx="1.9" ry="1.9" fill="#1c1c1c"/>
<path d="M274.6 164.6 L278.8 168 V175" stroke="#202020" stroke-width="1.0" fill="none" />
<path d="M280.4 167.4 V175" stroke="#202020" stroke-width="0.7" fill="none" />
<path d="M276 183 V178 L279 174.6 L282 178 V183" stroke="#202020" stroke-width="0.9" fill="none" />
<circle cx="279" cy="178.6" r="1.3" stroke="#202020" stroke-width="0.7" fill="none"/>
<path clip-path="url(#h11)" d="M251.3 172.4 L254.9 168.8 M251.3 168.8 L254.9 172.4 M253.2 172.4 L256.8 168.8 M253.2 168.8 L256.8 172.4 M255.1 172.4 L258.7 168.8 M255.1 168.8 L258.7 172.4 M257 172.4 L260.6 168.8 M257 168.8 L260.6 172.4 M258.9 172.4 L262.5 168.8 M258.9 168.8 L262.5 172.4 M260.8 172.4 L264.4 168.8 M260.8 168.8 L264.4 172.4 M262.7 172.4 L266.3 168.8 M262.7 168.8 L266.3 172.4 M264.6 172.4 L268.2 168.8 M264.6 168.8 L268.2 172.4 M266.5 172.4 L270.1 168.8 M266.5 168.8 L270.1 172.4 M268.4 172.4 L272 168.8 M268.4 168.8 L272 172.4 M270.3 172.4 L273.9 168.8 M270.3 168.8 L273.9 172.4 M272.2 172.4 L275.8 168.8 M272.2 168.8 L275.8 172.4 M274.1 172.4 L277.7 168.8 M274.1 168.8 L277.7 172.4 M276 172.4 L279.6 168.8 M276 168.8 L279.6 172.4" stroke="#202020" stroke-width="0.5" fill="none"/>
<path d="M254.9 168.8 L272.7 168.8 L272.7 172.4 L254.9 172.4 Z" stroke="#202020" stroke-width="0.9" fill="none" />
<path clip-path="url(#h12)" d="M246 182.8 L256.4 172.4 M246 172.4 L256.4 182.8 M247.9 182.8 L258.3 172.4 M247.9 172.4 L258.3 182.8 M249.8 182.8 L260.2 172.4 M249.8 172.4 L260.2 182.8 M251.7 182.8 L262.1 172.4 M251.7 172.4 L262.1 182.8 M253.6 182.8 L264 172.4 M253.6 172.4 L264 182.8 M255.5 182.8 L265.9 172.4 M255.5 172.4 L265.9 182.8 M257.4 182.8 L267.8 172.4 M257.4 172.4 L267.8 182.8 M259.3 182.8 L269.7 172.4 M259.3 172.4 L269.7 182.8 M261.2 182.8 L271.6 172.4 M261.2 172.4 L271.6 182.8 M263.1 182.8 L273.5 172.4 M263.1 172.4 L273.5 182.8 M265 182.8 L275.4 172.4 M265 172.4 L275.4 182.8 M266.9 182.8 L277.3 172.4 M266.9 172.4 L277.3 182.8 M268.8 182.8 L279.2 172.4 M268.8 172.4 L279.2 182.8 M270.7 182.8 L281.1 172.4 M270.7 172.4 L281.1 182.8 M272.6 182.8 L283 172.4 M272.6 172.4 L283 182.8 M274.5 182.8 L284.9 172.4 M274.5 172.4 L284.9 182.8 M276.4 182.8 L286.8 172.4 M276.4 172.4 L286.8 182.8 M278.3 182.8 L288.7 172.4 M278.3 172.4 L288.7 182.8 M280.2 182.8 L290.6 172.4 M280.2 172.4 L290.6 182.8" stroke="#202020" stroke-width="0.5" fill="none"/>
<path d="M256.4 172.4 L271.2 172.4 L271.2 182.8 L256.4 182.8 Z" stroke="#202020" stroke-width="0.9" fill="none" />
<circle cx="263.8" cy="178" r="3" stroke="#202020" stroke-width="0.9" fill="#fff"/>
<circle cx="263.8" cy="178" r="1.3" stroke="#202020" stroke-width="0.8" fill="none"/>
<circle cx="258" cy="181" r="1" stroke="#202020" stroke-width="0.6" fill="#fff"/>
<circle cx="269.8" cy="181" r="1" stroke="#202020" stroke-width="0.6" fill="#fff"/>
<line x1="253" y1="170.4" x2="255" y2="170.4" stroke="#202020" stroke-width="0.8"/>
<line x1="272.7" y1="170.4" x2="275" y2="170.4" stroke="#202020" stroke-width="0.8"/>
<line x1="285" y1="184.5" x2="318.2" y2="184.5" stroke="#202020" stroke-width="0.8"/>
<line x1="285" y1="197.9" x2="318.2" y2="197.9" stroke="#202020" stroke-width="0.8"/>
<line x1="285" y1="184.5" x2="285" y2="198" stroke="#202020" stroke-width="0.8"/>
<path d="M318.2 189 L295.5 189 A2.1 2.1 0 0 0 295.5 193.2 L318.2 193.2" stroke="#202020" stroke-width="0.8" fill="none" />
<line x1="296" y1="191.1" x2="322" y2="191.1" stroke="#666" stroke-width="0.5" stroke-dasharray="4 1.5"/>
<line x1="283.6" y1="183" x2="287.6" y2="183" stroke="#202020" stroke-width="0.7"/>
<line x1="287.6" y1="183" x2="287.6" y2="198" stroke="#202020" stroke-width="0.7"/>
<path d="M285.3 198 V226.5 Q285.3 233.1 278.6 233.1 H253.3" stroke="#202020" stroke-width="0.9" fill="none" />
<path d="M260.6 210.2 L262.2 212.2 L260.6 214.2 L259 212.2 Z" stroke="#202020" stroke-width="0.5" fill="#222" />
<line x1="257.6" y1="212.2" x2="263.6" y2="212.2" stroke="#202020" stroke-width="0.6"/>
<text transform="translate(381 114.4) rotate(0) scale(0.58 1)" font-size="11" fill="#303030" stroke="#303030" stroke-width="0.22" text-anchor="middle" font-weight="normal">H=112-160</text>
<line x1="380" y1="120.5" x2="380" y2="249.5" stroke="#444" stroke-width="1.0" stroke-dasharray="14 2 3 2"/>
<line x1="319" y1="190.8" x2="449.3" y2="190.8" stroke="#444" stroke-width="1.0" stroke-dasharray="14 2 3 2"/>
<circle cx="380" cy="190.8" r="48.6" stroke="#202020" stroke-width="1.2" fill="none"/>
<circle cx="380" cy="190.8" r="41.1" stroke="#333" stroke-width="0.7" fill="none" stroke-dasharray="9 3"/>
<circle cx="380" cy="190.8" r="34.8" stroke="#202020" stroke-width="1.2" fill="none"/>
<circle cx="380" cy="190.8" r="32.3" stroke="#202020" stroke-width="0.8" fill="none"/>
<circle cx="380" cy="190.8" r="21.6" stroke="#202020" stroke-width="0.9" fill="none"/>
<circle cx="380" cy="190.8" r="6.2" stroke="#202020" stroke-width="1.0" fill="none"/>
<rect x="385.6" y="189.3" width="2.3" height="3" stroke="#202020" stroke-width="0.8" fill="#fff"/>
<ellipse cx="363.29" cy="181.15" rx="1.1" ry="1.1" fill="#222"/>
<line x1="361.29" y1="179.15" x2="365.29" y2="183.15" stroke="#202020" stroke-width="0.6"/>
<line x1="361.29" y1="183.15" x2="365.29" y2="179.15" stroke="#202020" stroke-width="0.6"/>
<ellipse cx="396.71" cy="181.15" rx="1.1" ry="1.1" fill="#222"/>
<line x1="394.71" y1="179.15" x2="398.71" y2="183.15" stroke="#202020" stroke-width="0.6"/>
<line x1="394.71" y1="183.15" x2="398.71" y2="179.15" stroke="#202020" stroke-width="0.6"/>
<ellipse cx="380" cy="210.1" rx="1.1" ry="1.1" fill="#222"/>
<line x1="378" y1="208.1" x2="382" y2="212.1" stroke="#202020" stroke-width="0.6"/>
<line x1="378" y1="212.1" x2="382" y2="208.1" stroke="#202020" stroke-width="0.6"/>
<circle cx="409.06" cy="219.86" r="2.7" stroke="#202020" stroke-width="1.0" fill="#fff"/>
<circle cx="409.06" cy="219.86" r="1.5" stroke="#333" stroke-width="0.5" fill="none"/>
<circle cx="350.94" cy="219.86" r="2.7" stroke="#202020" stroke-width="1.0" fill="#fff"/>
<circle cx="350.94" cy="219.86" r="1.5" stroke="#333" stroke-width="0.5" fill="none"/>
<circle cx="350.94" cy="161.74" r="2.7" stroke="#202020" stroke-width="1.0" fill="#fff"/>
<circle cx="350.94" cy="161.74" r="1.5" stroke="#333" stroke-width="0.5" fill="none"/>
<circle cx="409.06" cy="161.74" r="2.7" stroke="#202020" stroke-width="1.0" fill="#fff"/>
<circle cx="409.06" cy="161.74" r="1.5" stroke="#333" stroke-width="0.5" fill="none"/>
<path d="M349.7 151.7 L341.5 151.7 L343.7 158.8" stroke="#202020" stroke-width="0.9" fill="none" />
<path d="M410.3 151.7 L418.5 151.7 L416.3 158.8" stroke="#202020" stroke-width="0.9" fill="none" />
<line x1="365" y1="123.4" x2="459.5" y2="123.4" stroke="#202020" stroke-width="0.9"/>
<path d="M365 123.4 L361 127.6 V131.4" stroke="#202020" stroke-width="0.9" fill="none" />
<line x1="400.6" y1="123.4" x2="400.6" y2="137.8" stroke="#202020" stroke-width="0.9"/>
<line x1="361" y1="128" x2="400.6" y2="138.8" stroke="#202020" stroke-width="0.9"/>
<line x1="360.6" y1="130" x2="400.6" y2="140.6" stroke="#202020" stroke-width="0.9"/>
<rect x="353.6" y="131.4" width="7.4" height="8.8" stroke="#202020" stroke-width="0.9" fill="none"/>
<rect x="355" y="133.4" width="3.4" height="5" stroke="#202020" stroke-width="0.6" fill="none"/>
<ellipse cx="360.4" cy="128.8" rx="1" ry="1.3" fill="#1c1c1c"/>
<path clip-path="url(#h13)" d="M344.4 148.7 L352.6 140.5 M345.9 148.7 L354.1 140.5 M347.4 148.7 L355.6 140.5 M348.9 148.7 L357.1 140.5 M350.4 148.7 L358.6 140.5 M351.9 148.7 L360.1 140.5 M353.4 148.7 L361.6 140.5 M354.9 148.7 L363.1 140.5 M356.4 148.7 L364.6 140.5 M357.9 148.7 L366.1 140.5 M359.4 148.7 L367.6 140.5 M360.9 148.7 L369.1 140.5 M362.4 148.7 L370.6 140.5 M363.9 148.7 L372.1 140.5 M365.4 148.7 L373.6 140.5 M366.9 148.7 L375.1 140.5 M368.4 148.7 L376.6 140.5 M369.9 148.7 L378.1 140.5 M371.4 148.7 L379.6 140.5 M372.9 148.7 L381.1 140.5 M374.4 148.7 L382.6 140.5 M375.9 148.7 L384.1 140.5 M377.4 148.7 L385.6 140.5 M378.9 148.7 L387.1 140.5 M380.4 148.7 L388.6 140.5 M381.9 148.7 L390.1 140.5 M383.4 148.7 L391.6 140.5 M384.9 148.7 L393.1 140.5 M386.4 148.7 L394.6 140.5 M387.9 148.7 L396.1 140.5 M389.4 148.7 L397.6 140.5 M390.9 148.7 L399.1 140.5 M392.4 148.7 L400.6 140.5 M393.9 148.7 L402.1 140.5 M395.4 148.7 L403.6 140.5 M396.9 148.7 L405.1 140.5 M398.4 148.7 L406.6 140.5 M399.9 148.7 L408.1 140.5 M401.4 148.7 L409.6 140.5 M402.9 148.7 L411.1 140.5 M404.4 148.7 L412.6 140.5 M405.9 148.7 L414.1 140.5 M407.4 148.7 L415.6 140.5 M408.9 148.7 L417.1 140.5 M410.4 148.7 L418.6 140.5 M411.9 148.7 L420.1 140.5 M413.4 148.7 L421.6 140.5 M414.9 148.7 L423.1 140.5" stroke="#202020" stroke-width="0.7" fill="none"/>
<path d="M352.6 146.5 L361 140.5 L399.6 140.5 L408 146.5 L406.4 148.7 L398.8 143.2 L361.8 143.2 L354.2 148.7 Z" stroke="#202020" stroke-width="1.0" fill="none" />
<line x1="352.6" y1="146.5" x2="352.6" y2="150.9" stroke="#202020" stroke-width="0.9"/>
<line x1="408" y1="146.5" x2="408" y2="150.9" stroke="#202020" stroke-width="0.9"/>
<ellipse cx="401.6" cy="141.1" rx="1.1" ry="1.3" fill="#1c1c1c"/>
<ellipse cx="405.4" cy="144.5" rx="1" ry="1.2" fill="#1c1c1c"/>
<text transform="translate(333.3 133.8) rotate(0) scale(0.66 1)" font-size="8.8" fill="#303030" stroke="#303030" stroke-width="0.22" text-anchor="middle" font-weight="normal">4xØS</text>
<line x1="326.2" y1="136" x2="340.4" y2="136" stroke="#202020" stroke-width="0.7"/>
<line x1="340.4" y1="136" x2="349.6" y2="159.6" stroke="#202020" stroke-width="0.7"/>
<rect x="329.2" y="240.8" width="22.4" height="5.3" stroke="#202020" stroke-width="0.9" fill="none"/>
<rect x="408.4" y="240.8" width="22.2" height="5.3" stroke="#202020" stroke-width="0.9" fill="none"/>
<line x1="351.6" y1="240.8" x2="357.94" y2="234.1" stroke="#202020" stroke-width="0.9"/>
<line x1="408.4" y1="240.8" x2="402.06" y2="234.1" stroke="#202020" stroke-width="0.9"/>
<line x1="346.8" y1="240.8" x2="351.78" y2="230.37" stroke="#202020" stroke-width="0.9"/>
<line x1="413.2" y1="240.8" x2="408.22" y2="230.37" stroke="#202020" stroke-width="0.9"/>
<line x1="336.8" y1="232" x2="336.8" y2="246.1" stroke="#202020" stroke-width="0.7"/>
<line x1="341.2" y1="232" x2="341.2" y2="246.1" stroke="#202020" stroke-width="0.7"/>
<line x1="418.6" y1="240.8" x2="418.6" y2="246.1" stroke="#202020" stroke-width="0.7"/>
<line x1="423" y1="240.8" x2="423" y2="246.1" stroke="#202020" stroke-width="0.7"/>
<line x1="339" y1="235.5" x2="339" y2="263" stroke="#202020" stroke-width="0.9"/>
<line x1="420.8" y1="238.5" x2="420.8" y2="263" stroke="#202020" stroke-width="0.9"/>
<line x1="339" y1="260" x2="420.8" y2="260" stroke="#202020" stroke-width="0.9"/>
<path d="M339 260 L342.6 259.25 L342.6 260.75 Z" fill="#202020"/>
<path d="M420.8 260 L417.2 260.75 L417.2 259.25 Z" fill="#202020"/>
<text transform="translate(380 257.8) rotate(0) scale(0.64 1)" font-size="9.6" fill="#303030" stroke="#303030" stroke-width="0.22" text-anchor="middle" font-weight="normal">A</text>
<line x1="329.2" y1="246.1" x2="329.2" y2="277.5" stroke="#202020" stroke-width="0.9"/>
<line x1="430.6" y1="246.1" x2="430.6" y2="277.5" stroke="#202020" stroke-width="0.9"/>
<line x1="329.2" y1="273.8" x2="430.6" y2="273.8" stroke="#202020" stroke-width="0.9"/>
<path d="M329.2 273.8 L332.8 273.05 L332.8 274.55 Z" fill="#202020"/>
<path d="M430.6 273.8 L427 274.55 L427 273.05 Z" fill="#202020"/>
<text transform="translate(380 271.6) rotate(0) scale(0.64 1)" font-size="9.6" fill="#303030" stroke="#303030" stroke-width="0.22" text-anchor="middle" font-weight="normal">AB</text>
<text transform="translate(331 232.2) rotate(0) scale(0.6 1)" font-size="8.4" fill="#303030" stroke="#303030" stroke-width="0.22" text-anchor="middle" font-weight="normal">ØK</text>
<line x1="326" y1="235.6" x2="348" y2="235.6" stroke="#202020" stroke-width="0.7"/>
<path d="M336.8 235.6 L333.8 236.35 L333.8 234.85 Z" fill="#202020"/>
<path d="M341.2 235.6 L344.2 234.85 L344.2 236.35 Z" fill="#202020"/>
<line x1="430.6" y1="246.1" x2="459.5" y2="246.1" stroke="#202020" stroke-width="0.8"/>
<line x1="430.6" y1="240.8" x2="437.2" y2="240.8" stroke="#202020" stroke-width="0.8"/>
<line x1="457" y1="123.4" x2="457" y2="246.1" stroke="#202020" stroke-width="0.9"/>
<path d="M457 123.4 L457.75 127 L456.25 127 Z" fill="#202020"/>
<path d="M457 246.1 L456.25 242.5 L457.75 242.5 Z" fill="#202020"/>
<line x1="447.3" y1="190.8" x2="447.3" y2="246.1" stroke="#202020" stroke-width="0.9"/>
<path d="M447.3 190.8 L448.05 194.4 L446.55 194.4 Z" fill="#202020"/>
<path d="M447.3 246.1 L446.55 242.5 L448.05 242.5 Z" fill="#202020"/>
<line x1="435.2" y1="225" x2="435.2" y2="256" stroke="#202020" stroke-width="0.8"/>
<path d="M435.2 240.8 L434.45 237.8 L435.95 237.8 Z" fill="#202020"/>
<path d="M435.2 246.1 L435.95 249.1 L434.45 249.1 Z" fill="#202020"/>
<text transform="translate(454.8 184.5) rotate(-90) scale(0.64 1)" font-size="9.6" fill="#303030" stroke="#303030" stroke-width="0.22" text-anchor="middle" font-weight="normal">HD</text>
<text transform="translate(445.1 221.5) rotate(-90) scale(0.64 1)" font-size="9.6" fill="#303030" stroke="#303030" stroke-width="0.22" text-anchor="middle" font-weight="normal">H</text>
<text transform="translate(433 229.5) rotate(-90) scale(0.64 1)" font-size="9.6" fill="#303030" stroke="#303030" stroke-width="0.22" text-anchor="middle" font-weight="normal">HA</text>
<path d="M436.8 190.8 A56.8 56.8 0 0 0 420.16 150.64" stroke="#202020" stroke-width="0.8" fill="none" />
<path d="M436.8 190.8 L436.05 187.6 L437.55 187.6 Z" fill="#202020"/>
<path d="M420.16 150.64 L422.96 152.37 L421.9 153.43 Z" fill="#202020"/>
<line x1="385.4" y1="184.2" x2="421.5" y2="149.3" stroke="#202020" stroke-width="0.9"/>
<line x1="418" y1="150.2" x2="423" y2="153.4" stroke="#202020" stroke-width="0.7"/>
<line x1="421.5" y1="149.3" x2="423.6" y2="147.2" stroke="#202020" stroke-width="0.7"/>
<text transform="translate(434.6 166.6) rotate(62) scale(0.64 1)" font-size="9.6" fill="#303030" stroke="#303030" stroke-width="0.22" text-anchor="middle" font-weight="normal">45°</text>
<text transform="translate(386.2 178.2) rotate(-45) scale(0.62 1)" font-size="9.6" fill="#303030" stroke="#303030" stroke-width="0.22" text-anchor="middle" font-weight="normal">ØM</text>
<path d="M409.06 161.74 L407.33 164.53 L406.27 163.47 Z" fill="#202020"/>
<text transform="translate(521.4 114.4) rotate(0) scale(0.58 1)" font-size="11" fill="#303030" stroke="#303030" stroke-width="0.22" text-anchor="middle" font-weight="normal">H&gt;180</text>
<line x1="522.5" y1="120.5" x2="522.5" y2="249.5" stroke="#444" stroke-width="1.0" stroke-dasharray="14 2 3 2"/>
<line x1="461.5" y1="190.8" x2="591.4" y2="190.8" stroke="#444" stroke-width="1.0" stroke-dasharray="14 2 3 2"/>
<circle cx="522.5" cy="190.8" r="48" stroke="#202020" stroke-width="1.2" fill="none"/>
<circle cx="522.5" cy="190.8" r="41.1" stroke="#333" stroke-width="0.7" fill="none" stroke-dasharray="9 3"/>
<circle cx="522.5" cy="190.8" r="34.2" stroke="#202020" stroke-width="1.2" fill="none"/>
<circle cx="522.5" cy="190.8" r="31.7" stroke="#202020" stroke-width="0.8" fill="none"/>
<circle cx="522.5" cy="190.8" r="21.6" stroke="#202020" stroke-width="0.9" fill="none"/>
<circle cx="522.5" cy="190.8" r="6.2" stroke="#202020" stroke-width="1.0" fill="none"/>
<rect x="528.1" y="189.3" width="2.3" height="3" stroke="#202020" stroke-width="0.8" fill="#fff"/>
<ellipse cx="505.79" cy="181.15" rx="1.1" ry="1.1" fill="#222"/>
<line x1="503.79" y1="179.15" x2="507.79" y2="183.15" stroke="#202020" stroke-width="0.6"/>
<line x1="503.79" y1="183.15" x2="507.79" y2="179.15" stroke="#202020" stroke-width="0.6"/>
<ellipse cx="539.21" cy="181.15" rx="1.1" ry="1.1" fill="#222"/>
<line x1="537.21" y1="179.15" x2="541.21" y2="183.15" stroke="#202020" stroke-width="0.6"/>
<line x1="537.21" y1="183.15" x2="541.21" y2="179.15" stroke="#202020" stroke-width="0.6"/>
<ellipse cx="522.5" cy="210.1" rx="1.1" ry="1.1" fill="#222"/>
<line x1="520.5" y1="208.1" x2="524.5" y2="212.1" stroke="#202020" stroke-width="0.6"/>
<line x1="520.5" y1="212.1" x2="524.5" y2="208.1" stroke="#202020" stroke-width="0.6"/>
<circle cx="560.47" cy="206.53" r="2.7" stroke="#202020" stroke-width="1.0" fill="#fff"/>
<circle cx="560.47" cy="206.53" r="1.5" stroke="#333" stroke-width="0.5" fill="none"/>
<circle cx="538.23" cy="228.77" r="2.7" stroke="#202020" stroke-width="1.0" fill="#fff"/>
<circle cx="538.23" cy="228.77" r="1.5" stroke="#333" stroke-width="0.5" fill="none"/>
<circle cx="506.77" cy="228.77" r="2.7" stroke="#202020" stroke-width="1.0" fill="#fff"/>
<circle cx="506.77" cy="228.77" r="1.5" stroke="#333" stroke-width="0.5" fill="none"/>
<circle cx="484.53" cy="206.53" r="2.7" stroke="#202020" stroke-width="1.0" fill="#fff"/>
<circle cx="484.53" cy="206.53" r="1.5" stroke="#333" stroke-width="0.5" fill="none"/>
<circle cx="484.53" cy="175.07" r="2.7" stroke="#202020" stroke-width="1.0" fill="#fff"/>
<circle cx="484.53" cy="175.07" r="1.5" stroke="#333" stroke-width="0.5" fill="none"/>
<circle cx="506.77" cy="152.83" r="2.7" stroke="#202020" stroke-width="1.0" fill="#fff"/>
<circle cx="506.77" cy="152.83" r="1.5" stroke="#333" stroke-width="0.5" fill="none"/>
<circle cx="538.23" cy="152.83" r="2.7" stroke="#202020" stroke-width="1.0" fill="#fff"/>
<circle cx="538.23" cy="152.83" r="1.5" stroke="#333" stroke-width="0.5" fill="none"/>
<circle cx="560.47" cy="175.07" r="2.7" stroke="#202020" stroke-width="1.0" fill="#fff"/>
<circle cx="560.47" cy="175.07" r="1.5" stroke="#333" stroke-width="0.5" fill="none"/>
<path d="M492.2 151.7 L484 151.7 L486.2 158.8" stroke="#202020" stroke-width="0.9" fill="none" />
<path d="M552.8 151.7 L561 151.7 L558.8 158.8" stroke="#202020" stroke-width="0.9" fill="none" />
<line x1="507.8" y1="123.2" x2="604.1" y2="123.2" stroke="#202020" stroke-width="0.9"/>
<path d="M507.8 123.2 L503.8 127.4 V131.2" stroke="#202020" stroke-width="0.9" fill="none" />
<line x1="543.6" y1="123.2" x2="543.6" y2="137.6" stroke="#202020" stroke-width="0.9"/>
<line x1="503.8" y1="127.8" x2="543.6" y2="138.6" stroke="#202020" stroke-width="0.9"/>
<line x1="503.4" y1="129.8" x2="543.6" y2="140.4" stroke="#202020" stroke-width="0.9"/>
<rect x="496.4" y="131.2" width="7.4" height="8.8" stroke="#202020" stroke-width="0.9" fill="none"/>
<rect x="497.8" y="133.2" width="3.4" height="5" stroke="#202020" stroke-width="0.6" fill="none"/>
<ellipse cx="503.2" cy="128.6" rx="1" ry="1.3" fill="#1c1c1c"/>
<path clip-path="url(#h14)" d="M487.2 148.5 L495.4 140.3 M488.7 148.5 L496.9 140.3 M490.2 148.5 L498.4 140.3 M491.7 148.5 L499.9 140.3 M493.2 148.5 L501.4 140.3 M494.7 148.5 L502.9 140.3 M496.2 148.5 L504.4 140.3 M497.7 148.5 L505.9 140.3 M499.2 148.5 L507.4 140.3 M500.7 148.5 L508.9 140.3 M502.2 148.5 L510.4 140.3 M503.7 148.5 L511.9 140.3 M505.2 148.5 L513.4 140.3 M506.7 148.5 L514.9 140.3 M508.2 148.5 L516.4 140.3 M509.7 148.5 L517.9 140.3 M511.2 148.5 L519.4 140.3 M512.7 148.5 L520.9 140.3 M514.2 148.5 L522.4 140.3 M515.7 148.5 L523.9 140.3 M517.2 148.5 L525.4 140.3 M518.7 148.5 L526.9 140.3 M520.2 148.5 L528.4 140.3 M521.7 148.5 L529.9 140.3 M523.2 148.5 L531.4 140.3 M524.7 148.5 L532.9 140.3 M526.2 148.5 L534.4 140.3 M527.7 148.5 L535.9 140.3 M529.2 148.5 L537.4 140.3 M530.7 148.5 L538.9 140.3 M532.2 148.5 L540.4 140.3 M533.7 148.5 L541.9 140.3 M535.2 148.5 L543.4 140.3 M536.7 148.5 L544.9 140.3 M538.2 148.5 L546.4 140.3 M539.7 148.5 L547.9 140.3 M541.2 148.5 L549.4 140.3 M542.7 148.5 L550.9 140.3 M544.2 148.5 L552.4 140.3 M545.7 148.5 L553.9 140.3 M547.2 148.5 L555.4 140.3 M548.7 148.5 L556.9 140.3 M550.2 148.5 L558.4 140.3 M551.7 148.5 L559.9 140.3 M553.2 148.5 L561.4 140.3 M554.7 148.5 L562.9 140.3 M556.2 148.5 L564.4 140.3 M557.7 148.5 L565.9 140.3" stroke="#202020" stroke-width="0.7" fill="none"/>
<path d="M495.4 146.3 L503.8 140.3 L542.6 140.3 L551 146.3 L549.4 148.5 L541.8 143 L504.6 143 L497 148.5 Z" stroke="#202020" stroke-width="1.0" fill="none" />
<line x1="495.4" y1="146.3" x2="495.4" y2="150.7" stroke="#202020" stroke-width="0.9"/>
<line x1="551" y1="146.3" x2="551" y2="150.7" stroke="#202020" stroke-width="0.9"/>
<ellipse cx="544.6" cy="140.9" rx="1.1" ry="1.3" fill="#1c1c1c"/>
<ellipse cx="548.4" cy="144.3" rx="1" ry="1.2" fill="#1c1c1c"/>
<text transform="translate(477 136.6) rotate(0) scale(0.66 1)" font-size="8.8" fill="#303030" stroke="#303030" stroke-width="0.22" text-anchor="middle" font-weight="normal">8xØS</text>
<line x1="469" y1="138.8" x2="485" y2="138.8" stroke="#202020" stroke-width="0.7"/>
<line x1="485" y1="138.8" x2="505.4" y2="150.8" stroke="#202020" stroke-width="0.7"/>
<rect x="472.7" y="240.8" width="22.3" height="5.3" stroke="#202020" stroke-width="0.9" fill="none"/>
<rect x="550" y="240.8" width="24.2" height="5.3" stroke="#202020" stroke-width="0.9" fill="none"/>
<line x1="495" y1="240.8" x2="500.71" y2="233.57" stroke="#202020" stroke-width="0.9"/>
<line x1="550" y1="240.8" x2="544.29" y2="233.57" stroke="#202020" stroke-width="0.9"/>
<line x1="490.2" y1="240.8" x2="494.63" y2="229.88" stroke="#202020" stroke-width="0.9"/>
<line x1="554.8" y1="240.8" x2="550.37" y2="229.88" stroke="#202020" stroke-width="0.9"/>
<line x1="479.2" y1="232" x2="479.2" y2="246.1" stroke="#202020" stroke-width="0.7"/>
<line x1="483.6" y1="232" x2="483.6" y2="246.1" stroke="#202020" stroke-width="0.7"/>
<line x1="562" y1="240.8" x2="562" y2="246.1" stroke="#202020" stroke-width="0.7"/>
<line x1="566.4" y1="240.8" x2="566.4" y2="246.1" stroke="#202020" stroke-width="0.7"/>
<line x1="481.4" y1="235.5" x2="481.4" y2="263" stroke="#202020" stroke-width="0.9"/>
<line x1="564.2" y1="238.5" x2="564.2" y2="263" stroke="#202020" stroke-width="0.9"/>
<line x1="481.4" y1="259.8" x2="564.2" y2="259.8" stroke="#202020" stroke-width="0.9"/>
<path d="M481.4 259.8 L485 259.05 L485 260.55 Z" fill="#202020"/>
<path d="M564.2 259.8 L560.6 260.55 L560.6 259.05 Z" fill="#202020"/>
<text transform="translate(522.5 257.6) rotate(0) scale(0.64 1)" font-size="9.6" fill="#303030" stroke="#303030" stroke-width="0.22" text-anchor="middle" font-weight="normal">A</text>
<line x1="472.7" y1="246.1" x2="472.7" y2="277.5" stroke="#202020" stroke-width="0.9"/>
<line x1="574.2" y1="246.1" x2="574.2" y2="277.5" stroke="#202020" stroke-width="0.9"/>
<line x1="472.7" y1="274.4" x2="574.2" y2="274.4" stroke="#202020" stroke-width="0.9"/>
<path d="M472.7 274.4 L476.3 273.65 L476.3 275.15 Z" fill="#202020"/>
<path d="M574.2 274.4 L570.6 275.15 L570.6 273.65 Z" fill="#202020"/>
<text transform="translate(522.5 272.2) rotate(0) scale(0.64 1)" font-size="9.6" fill="#303030" stroke="#303030" stroke-width="0.22" text-anchor="middle" font-weight="normal">AB</text>
<text transform="translate(474.2 230.4) rotate(0) scale(0.6 1)" font-size="8.4" fill="#303030" stroke="#303030" stroke-width="0.22" text-anchor="middle" font-weight="normal">ØK</text>
<line x1="469.2" y1="233.8" x2="490.4" y2="233.8" stroke="#202020" stroke-width="0.7"/>
<path d="M479.2 233.8 L476.2 234.55 L476.2 233.05 Z" fill="#202020"/>
<path d="M483.6 233.8 L486.6 233.05 L486.6 234.55 Z" fill="#202020"/>
<line x1="574.2" y1="246.1" x2="604.1" y2="246.1" stroke="#202020" stroke-width="0.8"/>
<line x1="574.2" y1="240.8" x2="581.9" y2="240.8" stroke="#202020" stroke-width="0.8"/>
<line x1="601.6" y1="123.2" x2="601.6" y2="246.1" stroke="#202020" stroke-width="0.9"/>
<path d="M601.6 123.2 L602.35 126.8 L600.85 126.8 Z" fill="#202020"/>
<path d="M601.6 246.1 L600.85 242.5 L602.35 242.5 Z" fill="#202020"/>
<line x1="589.4" y1="190.8" x2="589.4" y2="246.1" stroke="#202020" stroke-width="0.9"/>
<path d="M589.4 190.8 L590.15 194.4 L588.65 194.4 Z" fill="#202020"/>
<path d="M589.4 246.1 L588.65 242.5 L590.15 242.5 Z" fill="#202020"/>
<line x1="579.9" y1="225" x2="579.9" y2="256" stroke="#202020" stroke-width="0.8"/>
<path d="M579.9 240.8 L579.15 237.8 L580.65 237.8 Z" fill="#202020"/>
<path d="M579.9 246.1 L580.65 249.1 L579.15 249.1 Z" fill="#202020"/>
<text transform="translate(599.4 184.5) rotate(-90) scale(0.64 1)" font-size="9.6" fill="#303030" stroke="#303030" stroke-width="0.22" text-anchor="middle" font-weight="normal">HD</text>
<text transform="translate(587.2 221.5) rotate(-90) scale(0.64 1)" font-size="9.6" fill="#303030" stroke="#303030" stroke-width="0.22" text-anchor="middle" font-weight="normal">H</text>
<text transform="translate(577.7 229.5) rotate(-90) scale(0.64 1)" font-size="9.6" fill="#303030" stroke="#303030" stroke-width="0.22" text-anchor="middle" font-weight="normal">HA</text>
<path d="M578.9 190.8 A56.4 56.4 0 0 0 574.61 169.22" stroke="#202020" stroke-width="0.8" fill="none" />
<path d="M578.9 190.8 L578.15 187.6 L579.65 187.6 Z" fill="#202020"/>
<path d="M574.61 169.22 L576.52 171.89 L575.14 172.46 Z" fill="#202020"/>
<line x1="562.6" y1="174.19" x2="577.93" y2="167.84" stroke="#202020" stroke-width="0.8"/>
<line x1="526" y1="187.3" x2="551.6" y2="161.7" stroke="#202020" stroke-width="0.8"/>
<path d="M551.6 161.7 L549.87 164.49 L548.81 163.43 Z" fill="#202020"/>
<line x1="548.9" y1="160.4" x2="553.5" y2="164.2" stroke="#202020" stroke-width="0.7"/>
<text transform="translate(582.2 180.2) rotate(76) scale(0.6 1)" font-size="8.4" fill="#303030" stroke="#303030" stroke-width="0.22" text-anchor="middle" font-weight="normal">22,5°</text>
<text transform="translate(528.8 178.8) rotate(-45) scale(0.62 1)" font-size="9.6" fill="#303030" stroke="#303030" stroke-width="0.22" text-anchor="middle" font-weight="normal">ØM</text>
<line x1="94.4" y1="357.5" x2="94.4" y2="525.5" stroke="#202020" stroke-width="0.9"/>
<line x1="269.6" y1="369.6" x2="269.6" y2="437.9" stroke="#202020" stroke-width="0.9"/>
<line x1="271.2" y1="450" x2="271.2" y2="527" stroke="#202020" stroke-width="0.9"/>
<line x1="301.5" y1="357.5" x2="301.5" y2="527" stroke="#202020" stroke-width="0.9"/>
<line x1="94.4" y1="359.6" x2="301.5" y2="359.6" stroke="#202020" stroke-width="0.9"/>
<path d="M94.4 359.6 L98 358.85 L98 360.35 Z" fill="#202020"/>
<path d="M301.5 359.6 L297.9 360.35 L297.9 358.85 Z" fill="#202020"/>
<line x1="94.4" y1="371.8" x2="269.6" y2="371.8" stroke="#202020" stroke-width="0.9"/>
<path d="M94.4 371.8 L98 371.05 L98 372.55 Z" fill="#202020"/>
<path d="M269.6 371.8 L266 372.55 L266 371.05 Z" fill="#202020"/>
<text transform="translate(198.4 357.4) rotate(0) scale(0.64 1)" font-size="9.2" fill="#303030" stroke="#303030" stroke-width="0.22" text-anchor="middle" font-weight="normal">Lc</text>
<text transform="translate(195.9 369.6) rotate(0) scale(0.64 1)" font-size="9.2" fill="#303030" stroke="#303030" stroke-width="0.22" text-anchor="middle" font-weight="normal">L</text>
<line x1="111" y1="388.4" x2="130.5" y2="388.4" stroke="#202020" stroke-width="0.9"/>
<path d="M122.8 388.4 L119.8 389.15 L119.8 387.65 Z" fill="#202020"/>
<path d="M124.4 388.4 L127.4 387.65 L127.4 389.15 Z" fill="#202020"/>
<text transform="translate(113.6 386.4) rotate(0) scale(0.64 1)" font-size="9.2" fill="#303030" stroke="#303030" stroke-width="0.22" text-anchor="middle" font-weight="normal">T</text>
<line x1="122.8" y1="385.5" x2="122.8" y2="490.9" stroke="#202020" stroke-width="0.9"/>
<line x1="124.4" y1="385.5" x2="124.4" y2="525.5" stroke="#202020" stroke-width="0.9"/>
<line x1="71.5" y1="397.3" x2="124.4" y2="397.3" stroke="#202020" stroke-width="0.9"/>
<line x1="71.5" y1="490.9" x2="127.4" y2="490.9" stroke="#202020" stroke-width="0.9"/>
<line x1="73.6" y1="397.3" x2="73.6" y2="490.9" stroke="#202020" stroke-width="0.9"/>
<path d="M73.6 397.3 L74.35 400.9 L72.85 400.9 Z" fill="#202020"/>
<path d="M73.6 490.9 L72.85 487.3 L74.35 487.3 Z" fill="#202020"/>
<line x1="82.6" y1="411.2" x2="124.4" y2="411.2" stroke="#202020" stroke-width="0.9"/>
<line x1="82.6" y1="478" x2="124.4" y2="478" stroke="#202020" stroke-width="0.9"/>
<line x1="84.8" y1="411.2" x2="84.8" y2="478" stroke="#202020" stroke-width="0.9"/>
<path d="M84.8 411.2 L85.55 414.8 L84.05 414.8 Z" fill="#202020"/>
<path d="M84.8 478 L84.05 474.4 L85.55 474.4 Z" fill="#202020"/>
<text transform="translate(70.6 444.4) rotate(-90) scale(0.64 1)" font-size="8.4" fill="#303030" stroke="#303030" stroke-width="0.22" text-anchor="middle" font-weight="normal">P</text>
<text transform="translate(82.2 444.4) rotate(-90) scale(0.64 1)" font-size="8.4" fill="#303030" stroke="#303030" stroke-width="0.22" text-anchor="middle" font-weight="normal">N</text>
<line x1="94.4" y1="438.4" x2="122.8" y2="438.4" stroke="#202020" stroke-width="0.9"/>
<line x1="94.4" y1="449.8" x2="122.8" y2="449.8" stroke="#202020" stroke-width="0.9"/>
<path d="M95.7 442.8 L117.4 442.8 A1.6 1.6 0 0 1 117.4 446 L95.7 446" stroke="#202020" stroke-width="0.8" fill="none" />
<line x1="97" y1="444.4" x2="118" y2="444.4" stroke="#666" stroke-width="0.5" stroke-dasharray="3 1.2"/>
<text transform="translate(107.3 428.6) rotate(0) scale(0.85 1)" font-size="6.6" fill="#303030" stroke="#303030" stroke-width="0.22" text-anchor="middle" font-weight="normal">N I</text>
<text transform="translate(107.3 464) rotate(0) scale(0.85 1)" font-size="6.6" fill="#303030" stroke="#303030" stroke-width="0.22" text-anchor="middle" font-weight="normal">N I</text>
<text transform="translate(285.5 428) rotate(0) scale(0.85 1)" font-size="6.6" fill="#303030" stroke="#303030" stroke-width="0.22" text-anchor="middle" font-weight="normal">N I</text>
<text transform="translate(285.5 463.8) rotate(0) scale(0.85 1)" font-size="6.6" fill="#303030" stroke="#303030" stroke-width="0.22" text-anchor="middle" font-weight="normal">N I</text>
<line x1="90" y1="444.4" x2="306" y2="444.4" stroke="#444" stroke-width="0.9" stroke-dasharray="12 2 3 2"/>
<path clip-path="url(#h15)" d="M87.9 433.8 L124.4 397.3 M87.9 397.3 L124.4 433.8 M89.8 433.8 L126.3 397.3 M89.8 397.3 L126.3 433.8 M91.7 433.8 L128.2 397.3 M91.7 397.3 L128.2 433.8 M93.6 433.8 L130.1 397.3 M93.6 397.3 L130.1 433.8 M95.5 433.8 L132 397.3 M95.5 397.3 L132 433.8 M97.4 433.8 L133.9 397.3 M97.4 397.3 L133.9 433.8 M99.3 433.8 L135.8 397.3 M99.3 397.3 L135.8 433.8 M101.2 433.8 L137.7 397.3 M101.2 397.3 L137.7 433.8 M103.1 433.8 L139.6 397.3 M103.1 397.3 L139.6 433.8 M105 433.8 L141.5 397.3 M105 397.3 L141.5 433.8 M106.9 433.8 L143.4 397.3 M106.9 397.3 L143.4 433.8 M108.8 433.8 L145.3 397.3 M108.8 397.3 L145.3 433.8 M110.7 433.8 L147.2 397.3 M110.7 397.3 L147.2 433.8 M112.6 433.8 L149.1 397.3 M112.6 397.3 L149.1 433.8 M114.5 433.8 L151 397.3 M114.5 397.3 L151 433.8 M116.4 433.8 L152.9 397.3 M116.4 397.3 L152.9 433.8 M118.3 433.8 L154.8 397.3 M118.3 397.3 L154.8 433.8 M120.2 433.8 L156.7 397.3 M120.2 397.3 L156.7 433.8 M122.1 433.8 L158.6 397.3 M122.1 397.3 L158.6 433.8 M124 433.8 L160.5 397.3 M124 397.3 L160.5 433.8 M125.9 433.8 L162.4 397.3 M125.9 397.3 L162.4 433.8 M127.8 433.8 L164.3 397.3 M127.8 397.3 L164.3 433.8 M129.7 433.8 L166.2 397.3 M129.7 397.3 L166.2 433.8 M131.6 433.8 L168.1 397.3 M131.6 397.3 L168.1 433.8 M133.5 433.8 L170 397.3 M133.5 397.3 L170 433.8 M135.4 433.8 L171.9 397.3 M135.4 397.3 L171.9 433.8 M137.3 433.8 L173.8 397.3 M137.3 397.3 L173.8 433.8 M139.2 433.8 L175.7 397.3 M139.2 397.3 L175.7 433.8 M141.1 433.8 L177.6 397.3 M141.1 397.3 L177.6 433.8 M143 433.8 L179.5 397.3 M143 397.3 L179.5 433.8 M144.9 433.8 L181.4 397.3 M144.9 397.3 L181.4 433.8 M146.8 433.8 L183.3 397.3 M146.8 397.3 L183.3 433.8 M148.7 433.8 L185.2 397.3 M148.7 397.3 L185.2 433.8 M150.6 433.8 L187.1 397.3 M150.6 397.3 L187.1 433.8 M152.5 433.8 L189 397.3 M152.5 397.3 L189 433.8 M154.4 433.8 L190.9 397.3 M154.4 397.3 L190.9 433.8 M156.3 433.8 L192.8 397.3 M156.3 397.3 L192.8 433.8 M158.2 433.8 L194.7 397.3 M158.2 397.3 L194.7 433.8 M160.1 433.8 L196.6 397.3 M160.1 397.3 L196.6 433.8 M162 433.8 L198.5 397.3 M162 397.3 L198.5 433.8 M163.9 433.8 L200.4 397.3 M163.9 397.3 L200.4 433.8 M165.8 433.8 L202.3 397.3 M165.8 397.3 L202.3 433.8 M167.7 433.8 L204.2 397.3 M167.7 397.3 L204.2 433.8 M169.6 433.8 L206.1 397.3 M169.6 397.3 L206.1 433.8 M171.5 433.8 L208 397.3 M171.5 397.3 L208 433.8 M173.4 433.8 L209.9 397.3 M173.4 397.3 L209.9 433.8 M175.3 433.8 L211.8 397.3 M175.3 397.3 L211.8 433.8 M177.2 433.8 L213.7 397.3 M177.2 397.3 L213.7 433.8 M179.1 433.8 L215.6 397.3 M179.1 397.3 L215.6 433.8 M181 433.8 L217.5 397.3 M181 397.3 L217.5 433.8" stroke="#202020" stroke-width="0.5" fill="none"/>
<path d="M124.4 397.3 L128.2 397.3 L128.2 406.6 L130.6 409.7 L140.6 409.7 L140.6 413.6 L136.6 413.6 L136 422.9 L145 422.9 L145 428.3 L134.2 428.3 L132.4 433.8 L130.2 433.8 L131.8 422 L132.2 413.8 L128 413 L124.4 409.6 Z" stroke="#202020" stroke-width="0.9" fill="none" />
<rect x="135.8" y="429" width="6.4" height="6.4" stroke="#202020" stroke-width="0.8" fill="none"/>
<circle cx="139" cy="432.2" r="2.5" stroke="#202020" stroke-width="0.9" fill="none"/>
<circle cx="139" cy="432.2" r="1.1" stroke="#202020" stroke-width="0.7" fill="none"/>
<ellipse cx="130.8" cy="435.4" rx="1.3" ry="1.3" fill="#1c1c1c"/>
<line x1="127.4" y1="434.8" x2="145.2" y2="434.8" stroke="#202020" stroke-width="0.8"/>
<line x1="127.4" y1="434.8" x2="127.4" y2="501.5" stroke="#202020" stroke-width="0.8"/>
<line x1="135.4" y1="435.4" x2="135.4" y2="444.4" stroke="#202020" stroke-width="0.7"/>
<line x1="142.6" y1="435.4" x2="142.6" y2="444.4" stroke="#202020" stroke-width="0.7"/>
<path clip-path="url(#h16)" d="M132.7 410.8 L140.5 403 M132.7 403 L140.5 410.8 M134.6 410.8 L142.4 403 M134.6 403 L142.4 410.8 M136.5 410.8 L144.3 403 M136.5 403 L144.3 410.8 M138.4 410.8 L146.2 403 M138.4 403 L146.2 410.8 M140.3 410.8 L148.1 403 M140.3 403 L148.1 410.8 M142.2 410.8 L150 403 M142.2 403 L150 410.8 M144.1 410.8 L151.9 403 M144.1 403 L151.9 410.8 M146 410.8 L153.8 403 M146 403 L153.8 410.8 M147.9 410.8 L155.7 403 M147.9 403 L155.7 410.8 M149.8 410.8 L157.6 403 M149.8 403 L157.6 410.8 M151.7 410.8 L159.5 403 M151.7 403 L159.5 410.8 M153.6 410.8 L161.4 403 M153.6 403 L161.4 410.8 M155.5 410.8 L163.3 403 M155.5 403 L163.3 410.8 M157.4 410.8 L165.2 403 M157.4 403 L165.2 410.8 M159.3 410.8 L167.1 403 M159.3 403 L167.1 410.8 M161.2 410.8 L169 403 M161.2 403 L169 410.8 M163.1 410.8 L170.9 403 M163.1 403 L170.9 410.8 M165 410.8 L172.8 403 M165 403 L172.8 410.8 M166.9 410.8 L174.7 403 M166.9 403 L174.7 410.8 M168.8 410.8 L176.6 403 M168.8 403 L176.6 410.8 M170.7 410.8 L178.5 403 M170.7 403 L178.5 410.8 M172.6 410.8 L180.4 403 M172.6 403 L180.4 410.8 M174.5 410.8 L182.3 403 M174.5 403 L182.3 410.8 M176.4 410.8 L184.2 403 M176.4 403 L184.2 410.8 M178.3 410.8 L186.1 403 M178.3 403 L186.1 410.8 M180.2 410.8 L188 403 M180.2 403 L188 410.8 M182.1 410.8 L189.9 403 M182.1 403 L189.9 410.8 M184 410.8 L191.8 403 M184 403 L191.8 410.8 M185.9 410.8 L193.7 403 M185.9 403 L193.7 410.8 M187.8 410.8 L195.6 403 M187.8 403 L195.6 410.8" stroke="#202020" stroke-width="0.5" fill="none"/>
<path d="M140.5 403.4 L146.4 403.4 L146.4 403 L180.4 403 L180.4 410.8 L140.5 410.8 Z" stroke="#202020" stroke-width="0.9" fill="none" />
<rect x="157.5" y="401.4" width="2.2" height="10.6" fill="#222"/>
<rect x="166.1" y="401.4" width="2.2" height="10.6" fill="#222"/>
<line x1="147" y1="401.6" x2="180" y2="401.6" stroke="#202020" stroke-width="0.8"/>
<rect x="146.7" y="379" width="33.3" height="20.2" stroke="#1a1a1a" stroke-width="1.9" fill="none" rx="4.5"/>
<rect x="148.9" y="381" width="28.9" height="16.1" stroke="#202020" stroke-width="0.6" fill="none" rx="3"/>
<ellipse cx="145.7" cy="384.2" rx="1.6" ry="1.2" fill="#1c1c1c"/>
<ellipse cx="181" cy="384.2" rx="1.6" ry="1.2" fill="#1c1c1c"/>
<line x1="149.3" y1="400.1" x2="177.4" y2="400.1" stroke="#202020" stroke-width="1.4"/>
<line x1="152.3" y1="397.5" x2="174.4" y2="397.5" stroke="#202020" stroke-width="0.9"/>
<ellipse cx="156.6" cy="392" rx="1.5" ry="2" fill="#1c1c1c"/>
<ellipse cx="158.8" cy="392.6" rx="1.1" ry="1.5" fill="#1c1c1c"/>
<line x1="156.6" y1="390.6" x2="156.6" y2="397.5" stroke="#202020" stroke-width="1.3"/>
<line x1="158.5" y1="391.6" x2="158.5" y2="397.5" stroke="#202020" stroke-width="0.8"/>
<line x1="155.3" y1="395.1" x2="159.6" y2="395.1" stroke="#202020" stroke-width="0.8"/>
<ellipse cx="163.4" cy="392" rx="1.5" ry="2" fill="#1c1c1c"/>
<ellipse cx="165.6" cy="392.6" rx="1.1" ry="1.5" fill="#1c1c1c"/>
<line x1="163.4" y1="390.6" x2="163.4" y2="397.5" stroke="#202020" stroke-width="1.3"/>
<line x1="165.3" y1="391.6" x2="165.3" y2="397.5" stroke="#202020" stroke-width="0.8"/>
<line x1="162.1" y1="395.1" x2="166.4" y2="395.1" stroke="#202020" stroke-width="0.8"/>
<ellipse cx="170.2" cy="392" rx="1.5" ry="2" fill="#1c1c1c"/>
<ellipse cx="172.4" cy="392.6" rx="1.1" ry="1.5" fill="#1c1c1c"/>
<line x1="170.2" y1="390.6" x2="170.2" y2="397.5" stroke="#202020" stroke-width="1.3"/>
<line x1="172.1" y1="391.6" x2="172.1" y2="397.5" stroke="#202020" stroke-width="0.8"/>
<line x1="168.9" y1="395.1" x2="173.2" y2="395.1" stroke="#202020" stroke-width="0.8"/>
<path clip-path="url(#h17)" d="M177.9 411.3 L180.4 408.8 M177.9 408.8 L180.4 411.3 M179.8 411.3 L182.3 408.8 M179.8 408.8 L182.3 411.3 M181.7 411.3 L184.2 408.8 M181.7 408.8 L184.2 411.3 M183.6 411.3 L186.1 408.8 M183.6 408.8 L186.1 411.3 M185.5 411.3 L188 408.8 M185.5 408.8 L188 411.3 M187.4 411.3 L189.9 408.8 M187.4 408.8 L189.9 411.3 M189.3 411.3 L191.8 408.8 M189.3 408.8 L191.8 411.3 M191.2 411.3 L193.7 408.8 M191.2 408.8 L193.7 411.3 M193.1 411.3 L195.6 408.8 M193.1 408.8 L195.6 411.3 M195 411.3 L197.5 408.8 M195 408.8 L197.5 411.3 M196.9 411.3 L199.4 408.8 M196.9 408.8 L199.4 411.3 M198.8 411.3 L201.3 408.8 M198.8 408.8 L201.3 411.3 M200.7 411.3 L203.2 408.8 M200.7 408.8 L203.2 411.3 M202.6 411.3 L205.1 408.8 M202.6 408.8 L205.1 411.3 M204.5 411.3 L207 408.8 M204.5 408.8 L207 411.3 M206.4 411.3 L208.9 408.8 M206.4 408.8 L208.9 411.3 M208.3 411.3 L210.8 408.8 M208.3 408.8 L210.8 411.3 M210.2 411.3 L212.7 408.8 M210.2 408.8 L212.7 411.3 M212.1 411.3 L214.6 408.8 M212.1 408.8 L214.6 411.3 M214 411.3 L216.5 408.8 M214 408.8 L216.5 411.3 M215.9 411.3 L218.4 408.8 M215.9 408.8 L218.4 411.3 M217.8 411.3 L220.3 408.8 M217.8 408.8 L220.3 411.3 M219.7 411.3 L222.2 408.8 M219.7 408.8 L222.2 411.3 M221.6 411.3 L224.1 408.8 M221.6 408.8 L224.1 411.3 M223.5 411.3 L226 408.8 M223.5 408.8 L226 411.3 M225.4 411.3 L227.9 408.8 M225.4 408.8 L227.9 411.3 M227.3 411.3 L229.8 408.8 M227.3 408.8 L229.8 411.3 M229.2 411.3 L231.7 408.8 M229.2 408.8 L231.7 411.3 M231.1 411.3 L233.6 408.8 M231.1 408.8 L233.6 411.3 M233 411.3 L235.5 408.8 M233 408.8 L235.5 411.3" stroke="#202020" stroke-width="0.5" fill="none"/>
<path d="M180.4 408.8 L232 408.8 L232 411.3 L180.4 411.3 Z" stroke="#202020" stroke-width="0.8" fill="none" />
<path d="M180.4 402.2 H206.7 V403.8 H225" stroke="#202020" stroke-width="0.8" fill="none" />
<rect x="168" y="411.5" width="47" height="22.6" stroke="#202020" stroke-width="0.9" fill="none"/>
<line x1="168" y1="422.4" x2="215" y2="422.4" stroke="#202020" stroke-width="0.7"/>
<line x1="168" y1="423.2" x2="215" y2="423.2" stroke="#202020" stroke-width="0.6"/>
<path d="M169 412.1 V421.9 M214 412.1 V421.9 M170.3 412.1 V421.9 M212.7 412.1 V421.9 M171.6 412.1 V421.9 M211.4 412.1 V421.9 M174.9 413.85 V420.15 M176.8 414.16 V419.84 M178.7 414.48 V419.52 M180.6 414.79 V419.21 M182.5 415.11 V418.89 M184.4 415.42 V418.58 M186.3 415.74 V418.26 M188.2 416.05 V417.95 M190.1 416.37 V417.63 M192 416.52 V417.48 M193.9 416.2 V417.8 M195.8 415.89 V418.11 M197.7 415.57 V418.43 M199.6 415.26 V418.74 M201.5 414.94 V419.06 M203.4 414.63 V419.37 M205.3 414.31 V419.69 M207.2 413.99 V420.01" stroke="#2a2a2a" stroke-width="0.7" fill="none" />
<line x1="188.5" y1="417" x2="194.5" y2="417" stroke="#555" stroke-width="0.6" stroke-dasharray="1.5 1"/>
<path d="M169 423.7 V433.5 M214 423.7 V433.5 M170.3 423.7 V433.5 M212.7 423.7 V433.5 M171.6 423.7 V433.5 M211.4 423.7 V433.5 M174.9 425.45 V431.75 M176.8 425.76 V431.44 M178.7 426.08 V431.12 M180.6 426.39 V430.81 M182.5 426.71 V430.49 M184.4 427.02 V430.18 M186.3 427.34 V429.86 M188.2 427.65 V429.55 M190.1 427.97 V429.23 M192 428.12 V429.08 M193.9 427.8 V429.4 M195.8 427.49 V429.71 M197.7 427.17 V430.03 M199.6 426.86 V430.34 M201.5 426.54 V430.66 M203.4 426.23 V430.97 M205.3 425.91 V431.29 M207.2 425.59 V431.61" stroke="#2a2a2a" stroke-width="0.7" fill="none" />
<line x1="188.5" y1="428.6" x2="194.5" y2="428.6" stroke="#555" stroke-width="0.6" stroke-dasharray="1.5 1"/>
<line x1="191.4" y1="411.7" x2="191.4" y2="433.9" stroke="#202020" stroke-width="0.9"/>
<line x1="193" y1="411.7" x2="193" y2="433.9" stroke="#202020" stroke-width="0.9"/>
<rect x="159.6" y="426.2" width="8.4" height="4.6" stroke="#202020" stroke-width="0.8" fill="none"/>
<line x1="162.6" y1="426.2" x2="162.6" y2="430.8" stroke="#202020" stroke-width="0.6"/>
<rect x="215" y="426.2" width="6.2" height="4.6" stroke="#202020" stroke-width="0.8" fill="none"/>
<ellipse cx="222.6" cy="428.5" rx="1.2" ry="1.2" fill="#1c1c1c"/>
<path clip-path="url(#h18)" d="M171.1 439.2 L175.7 434.6 M171.1 434.6 L175.7 439.2 M173 439.2 L177.6 434.6 M173 434.6 L177.6 439.2 M174.9 439.2 L179.5 434.6 M174.9 434.6 L179.5 439.2 M176.8 439.2 L181.4 434.6 M176.8 434.6 L181.4 439.2 M178.7 439.2 L183.3 434.6 M178.7 434.6 L183.3 439.2 M180.6 439.2 L185.2 434.6 M180.6 434.6 L185.2 439.2 M182.5 439.2 L187.1 434.6 M182.5 434.6 L187.1 439.2 M184.4 439.2 L189 434.6 M184.4 434.6 L189 439.2 M186.3 439.2 L190.9 434.6 M186.3 434.6 L190.9 439.2 M188.2 439.2 L192.8 434.6 M188.2 434.6 L192.8 439.2 M190.1 439.2 L194.7 434.6 M190.1 434.6 L194.7 439.2 M192 439.2 L196.6 434.6 M192 434.6 L196.6 439.2 M193.9 439.2 L198.5 434.6 M193.9 434.6 L198.5 439.2 M195.8 439.2 L200.4 434.6 M195.8 434.6 L200.4 439.2 M197.7 439.2 L202.3 434.6 M197.7 434.6 L202.3 439.2 M199.6 439.2 L204.2 434.6 M199.6 434.6 L204.2 439.2 M201.5 439.2 L206.1 434.6 M201.5 434.6 L206.1 439.2 M203.4 439.2 L208 434.6 M203.4 434.6 L208 439.2 M205.3 439.2 L209.9 434.6 M205.3 434.6 L209.9 439.2 M207.2 439.2 L211.8 434.6 M207.2 434.6 L211.8 439.2 M209.1 439.2 L213.7 434.6 M209.1 434.6 L213.7 439.2 M211 439.2 L215.6 434.6 M211 434.6 L215.6 439.2 M212.9 439.2 L217.5 434.6 M212.9 434.6 L217.5 439.2 M214.8 439.2 L219.4 434.6 M214.8 434.6 L219.4 439.2 M216.7 439.2 L221.3 434.6 M216.7 434.6 L221.3 439.2" stroke="#202020" stroke-width="0.5" fill="none"/>
<path d="M175.7 434.6 L213 434.6 L213 437.8 L211 439.2 L177.6 439.2 L175.7 437.8 Z" stroke="#202020" stroke-width="0.9" fill="none" />
<ellipse cx="156.4" cy="414.4" rx="3.4" ry="2.1" fill="#1c1c1c"/>
<line x1="159.6" y1="413.6" x2="163.9" y2="414.2" stroke="#202020" stroke-width="0.8"/>
<line x1="159.6" y1="415.4" x2="163.9" y2="416" stroke="#202020" stroke-width="0.8"/>
<circle cx="164" cy="415.2" r="1.2" stroke="#202020" stroke-width="0.7" fill="none"/>
<ellipse cx="224.8" cy="414.4" rx="3.4" ry="2.1" fill="#1c1c1c"/>
<line x1="221.6" y1="413.6" x2="217.3" y2="414.2" stroke="#202020" stroke-width="0.8"/>
<line x1="221.6" y1="415.4" x2="217.3" y2="416" stroke="#202020" stroke-width="0.8"/>
<circle cx="217.2" cy="415.2" r="1.2" stroke="#202020" stroke-width="0.7" fill="none"/>
<line x1="141.6" y1="411" x2="141.6" y2="485.7" stroke="#202020" stroke-width="0.8"/>
<line x1="145.2" y1="411" x2="145.2" y2="485.7" stroke="#202020" stroke-width="0.8"/>
<line x1="141.6" y1="434.8" x2="268.6" y2="434.8" stroke="#202020" stroke-width="0.9"/>
<line x1="148.3" y1="434.8" x2="148.3" y2="486.2" stroke="#202020" stroke-width="0.9"/>
<line x1="159.6" y1="434.8" x2="159.6" y2="444.4" stroke="#202020" stroke-width="0.7"/>
<line x1="168" y1="434.8" x2="168" y2="444.4" stroke="#202020" stroke-width="0.7"/>
<line x1="215" y1="434.8" x2="215" y2="444.4" stroke="#202020" stroke-width="0.7"/>
<line x1="221.4" y1="434.8" x2="221.4" y2="444.4" stroke="#202020" stroke-width="0.7"/>
<line x1="228" y1="434.8" x2="228" y2="444.4" stroke="#202020" stroke-width="0.7"/>
<line x1="247" y1="434.8" x2="247" y2="444.4" stroke="#202020" stroke-width="0.7"/>
<line x1="257" y1="434.8" x2="257" y2="444.4" stroke="#202020" stroke-width="0.7"/>
<line x1="264.4" y1="434.8" x2="264.4" y2="444.4" stroke="#202020" stroke-width="0.7"/>
<line x1="149.2" y1="446.6" x2="234" y2="446.6" stroke="#1c1c1c" stroke-width="1.8"/>
<line x1="149.2" y1="450.1" x2="234" y2="450.1" stroke="#1c1c1c" stroke-width="1.8"/>
<line x1="149.2" y1="453.6" x2="234" y2="453.6" stroke="#1c1c1c" stroke-width="1.8"/>
<line x1="149.2" y1="457.1" x2="234" y2="457.1" stroke="#1c1c1c" stroke-width="1.8"/>
<line x1="149.2" y1="460.6" x2="234" y2="460.6" stroke="#1c1c1c" stroke-width="1.8"/>
<line x1="148.3" y1="448.4" x2="234" y2="448.4" stroke="#999" stroke-width="0.5"/>
<line x1="148.3" y1="451.9" x2="234" y2="451.9" stroke="#999" stroke-width="0.5"/>
<line x1="148.3" y1="455.4" x2="234" y2="455.4" stroke="#999" stroke-width="0.5"/>
<line x1="148.3" y1="458.9" x2="234" y2="458.9" stroke="#999" stroke-width="0.5"/>
<line x1="148.3" y1="462.3" x2="234" y2="462.3" stroke="#999" stroke-width="0.5"/>
<line x1="234" y1="434.8" x2="234" y2="464" stroke="#202020" stroke-width="0.8"/>
<line x1="152" y1="463.8" x2="225.4" y2="463.8" stroke="#202020" stroke-width="1.3"/>
<path d="M152 463.8 V466 H154 V478.6 H150.5 M154 466 H167 L168.6 467.6 V477 L167 478.6 H154" stroke="#202020" stroke-width="0.8" fill="none" />
<path d="M225.4 463.8 V466 H223.4 V478.6 H227 M223.4 466 H210.6 L209 467.6 V477 L210.6 478.6 H223.4" stroke="#202020" stroke-width="0.8" fill="none" />
<line x1="169.5" y1="467.6" x2="208.2" y2="467.6" stroke="#1c1c1c" stroke-width="2.0"/>
<line x1="169" y1="470.8" x2="209" y2="470.8" stroke="#202020" stroke-width="0.7"/>
<line x1="169" y1="474.6" x2="209" y2="474.6" stroke="#202020" stroke-width="0.7"/>
<line x1="169" y1="476.6" x2="209" y2="476.6" stroke="#202020" stroke-width="0.7"/>
<line x1="148.3" y1="481.5" x2="226" y2="481.5" stroke="#202020" stroke-width="0.9"/>
<line x1="148.3" y1="484" x2="225.4" y2="484" stroke="#202020" stroke-width="1.5"/>
<line x1="148.3" y1="486.3" x2="224" y2="486.3" stroke="#202020" stroke-width="1.6"/>
<path d="M224 486.2 L227.6 485.6 L231.6 478.4 L228.6 478.2 L225.4 482.6 Z" stroke="#202020" stroke-width="0.8" fill="#333" />
<line x1="168.7" y1="486.2" x2="168.7" y2="490.5" stroke="#202020" stroke-width="0.8"/>
<line x1="210.5" y1="486.2" x2="210.5" y2="490.5" stroke="#202020" stroke-width="0.8"/>
<rect x="149.6" y="490.5" width="76.9" height="6.2" stroke="#202020" stroke-width="0.9" fill="none"/>
<line x1="156.3" y1="490.5" x2="156.3" y2="496.7" stroke="#202020" stroke-width="0.7"/>
<line x1="162.5" y1="490.5" x2="162.5" y2="496.7" stroke="#202020" stroke-width="0.7"/>
<line x1="215.7" y1="490.5" x2="215.7" y2="496.7" stroke="#202020" stroke-width="0.7"/>
<line x1="221.4" y1="490.5" x2="221.4" y2="496.7" stroke="#202020" stroke-width="0.7"/>
<line x1="149.6" y1="496.7" x2="149.6" y2="510.4" stroke="#202020" stroke-width="0.9"/>
<line x1="226.5" y1="496.7" x2="226.5" y2="510.4" stroke="#202020" stroke-width="0.9"/>
<line x1="149.6" y1="507.9" x2="226.5" y2="507.9" stroke="#202020" stroke-width="0.9"/>
<path d="M149.6 507.9 L153.2 507.15 L153.2 508.65 Z" fill="#202020"/>
<path d="M226.5 507.9 L222.9 508.65 L222.9 507.15 Z" fill="#202020"/>
<text transform="translate(187.8 505.8) rotate(0) scale(0.64 1)" font-size="9.2" fill="#303030" stroke="#303030" stroke-width="0.22" text-anchor="middle" font-weight="normal">BB</text>
<line x1="159.4" y1="489.3" x2="159.4" y2="525.8" stroke="#202020" stroke-width="0.9"/>
<line x1="218.3" y1="489.3" x2="218.3" y2="525.8" stroke="#202020" stroke-width="0.9"/>
<line x1="94.4" y1="523.7" x2="124.4" y2="523.7" stroke="#202020" stroke-width="0.9"/>
<path d="M94.4 523.7 L98 522.95 L98 524.45 Z" fill="#202020"/>
<path d="M124.4 523.7 L120.8 524.45 L120.8 522.95 Z" fill="#202020"/>
<line x1="124.4" y1="523.7" x2="159.4" y2="523.7" stroke="#202020" stroke-width="0.9"/>
<path d="M124.4 523.7 L128 522.95 L128 524.45 Z" fill="#202020"/>
<path d="M159.4 523.7 L155.8 524.45 L155.8 522.95 Z" fill="#202020"/>
<line x1="159.4" y1="523.7" x2="218.3" y2="523.7" stroke="#202020" stroke-width="0.9"/>
<path d="M159.4 523.7 L163 522.95 L163 524.45 Z" fill="#202020"/>
<path d="M218.3 523.7 L214.7 524.45 L214.7 522.95 Z" fill="#202020"/>
<line x1="218.3" y1="523.7" x2="271.2" y2="523.7" stroke="#202020" stroke-width="0.9"/>
<path d="M218.3 523.7 L221.9 522.95 L221.9 524.45 Z" fill="#202020"/>
<path d="M271.2 523.7 L267.6 524.45 L267.6 522.95 Z" fill="#202020"/>
<line x1="271.2" y1="523.7" x2="301.5" y2="523.7" stroke="#202020" stroke-width="0.9"/>
<path d="M271.2 523.7 L274.8 522.95 L274.8 524.45 Z" fill="#202020"/>
<path d="M301.5 523.7 L297.9 524.45 L297.9 522.95 Z" fill="#202020"/>
<text transform="translate(107.3 521.6) rotate(0) scale(0.64 1)" font-size="9.2" fill="#303030" stroke="#303030" stroke-width="0.22" text-anchor="middle" font-weight="normal">E</text>
<text transform="translate(140.6 521.6) rotate(0) scale(0.64 1)" font-size="9.2" fill="#303030" stroke="#303030" stroke-width="0.22" text-anchor="middle" font-weight="normal">C</text>
<text transform="translate(188.4 521.6) rotate(0) scale(0.64 1)" font-size="9.2" fill="#303030" stroke="#303030" stroke-width="0.22" text-anchor="middle" font-weight="normal">B</text>
<text transform="translate(245.5 521.6) rotate(0) scale(0.64 1)" font-size="9.2" fill="#303030" stroke="#303030" stroke-width="0.22" text-anchor="middle" font-weight="normal">CA</text>
<text transform="translate(285.2 521.6) rotate(0) scale(0.64 1)" font-size="9.2" fill="#303030" stroke="#303030" stroke-width="0.22" text-anchor="middle" font-weight="normal">E</text>
<line x1="117.4" y1="499.2" x2="143.8" y2="499.2" stroke="#202020" stroke-width="0.9"/>
<path d="M124.4 499.2 L121.4 499.95 L121.4 498.45 Z" fill="#202020"/>
<path d="M127.4 499.2 L130.4 498.45 L130.4 499.95 Z" fill="#202020"/>
<text transform="translate(139.2 497.4) rotate(0) scale(0.64 1)" font-size="9.2" fill="#303030" stroke="#303030" stroke-width="0.22" text-anchor="middle" font-weight="normal">LA</text>
<path d="M127.4 481.4 Q127.6 477.4 132.9 476.9 H140.6" stroke="#202020" stroke-width="0.9" fill="none" />
<line x1="140.6" y1="444.4" x2="140.6" y2="485.7" stroke="#202020" stroke-width="0.8"/>
<line x1="144.5" y1="444.4" x2="144.5" y2="485.7" stroke="#202020" stroke-width="0.8"/>
<line x1="140.6" y1="485.7" x2="148.3" y2="485.7" stroke="#202020" stroke-width="0.8"/>
<rect x="138.2" y="470.4" width="2.4" height="5" stroke="#202020" stroke-width="0.8" fill="none"/>
<line x1="122.8" y1="449.8" x2="127.4" y2="449.8" stroke="#202020" stroke-width="0.7"/>
<path d="M224.7 401.8 H262.6 Q268.7 401.8 268.7 408.6 V437" stroke="#1a1a1a" stroke-width="1.6" fill="none" />
<path d="M226 404 H261.4 Q266.7 404 266.7 409.6 V437" stroke="#202020" stroke-width="0.7" fill="none" />
<ellipse cx="243.8" cy="401.6" rx="1.8" ry="1.8" fill="#1c1c1c"/>
<path clip-path="url(#h19)" d="M220.7 407.6 L224.7 403.6 M220.7 403.6 L224.7 407.6 M222.6 407.6 L226.6 403.6 M222.6 403.6 L226.6 407.6 M224.5 407.6 L228.5 403.6 M224.5 403.6 L228.5 407.6 M226.4 407.6 L230.4 403.6 M226.4 403.6 L230.4 407.6 M228.3 407.6 L232.3 403.6 M228.3 403.6 L232.3 407.6 M230.2 407.6 L234.2 403.6 M230.2 403.6 L234.2 407.6 M232.1 407.6 L236.1 403.6 M232.1 403.6 L236.1 407.6 M234 407.6 L238 403.6 M234 403.6 L238 407.6 M235.9 407.6 L239.9 403.6 M235.9 403.6 L239.9 407.6 M237.8 407.6 L241.8 403.6 M237.8 403.6 L241.8 407.6 M239.7 407.6 L243.7 403.6 M239.7 403.6 L243.7 407.6 M241.6 407.6 L245.6 403.6 M241.6 403.6 L245.6 407.6 M243.5 407.6 L247.5 403.6 M243.5 403.6 L247.5 407.6" stroke="#202020" stroke-width="0.5" fill="none"/>
<path d="M224.7 403.6 L240 403.6 L240 407.6 L224.7 407.6 Z" stroke="#202020" stroke-width="0.8" fill="none" />
<rect x="227" y="403.4" width="4.6" height="3.6" fill="#444"/>
<path d="M240 407.4 H236 V410 M232 411.3 C236 411.6 238.4 412.6 238.8 416.4 V422.7" stroke="#202020" stroke-width="0.9" fill="none" />
<path d="M234 413.6 C236 414 236.6 415.4 236.8 417.6 V422.7" stroke="#202020" stroke-width="0.7" fill="none" />
<path d="M252.6 405.3 H258.6 L263.5 410.2 V416.6 L258.8 421.2 H252.4 L248 416.8 V410 Z" stroke="#202020" stroke-width="1.1" fill="none" />
<ellipse cx="255" cy="418.4" rx="1.8" ry="1.8" fill="#1c1c1c"/>
<path d="M256.6 419.4 L260.4 422 V430.5" stroke="#202020" stroke-width="1.0" fill="none" />
<path d="M262 421.6 V430.5" stroke="#202020" stroke-width="0.7" fill="none" />
<path d="M257.3 437 V433.6 L260.8 430.2 L264.3 433.6 V437" stroke="#202020" stroke-width="0.9" fill="none" />
<circle cx="260.8" cy="433.8" r="1.2" stroke="#202020" stroke-width="0.7" fill="none"/>
<path clip-path="url(#h20)" d="M224.5 426 L227.8 422.7 M224.5 422.7 L227.8 426 M226.4 426 L229.7 422.7 M226.4 422.7 L229.7 426 M228.3 426 L231.6 422.7 M228.3 422.7 L231.6 426 M230.2 426 L233.5 422.7 M230.2 422.7 L233.5 426 M232.1 426 L235.4 422.7 M232.1 422.7 L235.4 426 M234 426 L237.3 422.7 M234 422.7 L237.3 426 M235.9 426 L239.2 422.7 M235.9 422.7 L239.2 426 M237.8 426 L241.1 422.7 M237.8 422.7 L241.1 426 M239.7 426 L243 422.7 M239.7 422.7 L243 426 M241.6 426 L244.9 422.7 M241.6 422.7 L244.9 426 M243.5 426 L246.8 422.7 M243.5 422.7 L246.8 426 M245.4 426 L248.7 422.7 M245.4 422.7 L248.7 426 M247.3 426 L250.6 422.7 M247.3 422.7 L250.6 426 M249.2 426 L252.5 422.7 M249.2 422.7 L252.5 426" stroke="#202020" stroke-width="0.5" fill="none"/>
<path d="M227.8 422.7 L247.2 422.7 L247.2 426 L227.8 426 Z" stroke="#202020" stroke-width="0.9" fill="none" />
<path clip-path="url(#h21)" d="M220.6 434.8 L229.4 426 M220.6 426 L229.4 434.8 M222.5 434.8 L231.3 426 M222.5 426 L231.3 434.8 M224.4 434.8 L233.2 426 M224.4 426 L233.2 434.8 M226.3 434.8 L235.1 426 M226.3 426 L235.1 434.8 M228.2 434.8 L237 426 M228.2 426 L237 434.8 M230.1 434.8 L238.9 426 M230.1 426 L238.9 434.8 M232 434.8 L240.8 426 M232 426 L240.8 434.8 M233.9 434.8 L242.7 426 M233.9 426 L242.7 434.8 M235.8 434.8 L244.6 426 M235.8 426 L244.6 434.8 M237.7 434.8 L246.5 426 M237.7 426 L246.5 434.8 M239.6 434.8 L248.4 426 M239.6 426 L248.4 434.8 M241.5 434.8 L250.3 426 M241.5 426 L250.3 434.8 M243.4 434.8 L252.2 426 M243.4 426 L252.2 434.8 M245.3 434.8 L254.1 426 M245.3 426 L254.1 434.8 M247.2 434.8 L256 426 M247.2 426 L256 434.8 M249.1 434.8 L257.9 426 M249.1 426 L257.9 434.8 M251 434.8 L259.8 426 M251 426 L259.8 434.8 M252.9 434.8 L261.7 426 M252.9 426 L261.7 434.8" stroke="#202020" stroke-width="0.5" fill="none"/>
<path d="M229.4 426 L245.6 426 L245.6 434.8 L229.4 434.8 Z" stroke="#202020" stroke-width="0.9" fill="none" />
<circle cx="237.5" cy="431" r="2.8" stroke="#202020" stroke-width="0.9" fill="#fff"/>
<circle cx="237.5" cy="431" r="1.2" stroke="#202020" stroke-width="0.8" fill="none"/>
<circle cx="231.4" cy="433.4" r="0.9" stroke="#202020" stroke-width="0.6" fill="#fff"/>
<circle cx="243.6" cy="433.4" r="0.9" stroke="#202020" stroke-width="0.6" fill="#fff"/>
<line x1="245.6" y1="424.4" x2="250" y2="424.4" stroke="#202020" stroke-width="1.2"/>
<line x1="269.6" y1="437.9" x2="301.5" y2="437.9" stroke="#202020" stroke-width="0.8"/>
<line x1="269.6" y1="449.8" x2="301.5" y2="449.8" stroke="#202020" stroke-width="0.8"/>
<line x1="269.6" y1="437.9" x2="269.6" y2="449.8" stroke="#202020" stroke-width="0.8"/>
<path d="M301.5 442.6 L278.9 442.6 A1.9 1.9 0 0 0 278.9 446.4 L301.5 446.4" stroke="#202020" stroke-width="0.8" fill="none" />
<line x1="279.5" y1="444.5" x2="305" y2="444.5" stroke="#666" stroke-width="0.5" stroke-dasharray="4 1.5"/>
<line x1="268.7" y1="437" x2="271.2" y2="437" stroke="#202020" stroke-width="0.7"/>
<line x1="271.2" y1="437" x2="271.2" y2="450" stroke="#202020" stroke-width="0.7"/>
<path d="M269.8 450 V479.4 Q269.8 486 263 486 H230.6" stroke="#202020" stroke-width="0.9" fill="none" />
<path d="M236.1 462.6 L237.7 464.5 L236.1 466.4 L234.5 464.5 Z" stroke="#202020" stroke-width="0.5" fill="#222" />
<line x1="233" y1="464.5" x2="239.2" y2="464.5" stroke="#202020" stroke-width="0.6"/>
<text transform="translate(368.4 368.2) rotate(0) scale(0.58 1)" font-size="11" fill="#303030" stroke="#303030" stroke-width="0.22" text-anchor="middle" font-weight="normal">H=112-160</text>
<line x1="365.6" y1="394.5" x2="365.6" y2="500" stroke="#444" stroke-width="1.0" stroke-dasharray="14 2 3 2"/>
<line x1="313.6" y1="444.4" x2="430.5" y2="444.4" stroke="#444" stroke-width="1.0" stroke-dasharray="14 2 3 2"/>
<circle cx="365.6" cy="444.4" r="46.7" stroke="#202020" stroke-width="1.2" fill="none"/>
<circle cx="365.6" cy="444.4" r="40.4" stroke="#333" stroke-width="0.7" fill="none" stroke-dasharray="9 3"/>
<circle cx="365.6" cy="444.4" r="33.9" stroke="#202020" stroke-width="1.2" fill="none"/>
<circle cx="365.6" cy="444.4" r="31.1" stroke="#202020" stroke-width="0.8" fill="none"/>
<circle cx="365.6" cy="444.4" r="12.5" stroke="#202020" stroke-width="1.3" fill="none"/>
<circle cx="365.6" cy="444.4" r="10.6" stroke="#202020" stroke-width="0.6" fill="none"/>
<circle cx="365.6" cy="444.4" r="8.7" stroke="#202020" stroke-width="0.9" fill="none"/>
<circle cx="365.6" cy="444.4" r="6" stroke="#202020" stroke-width="1.3" fill="none"/>
<circle cx="365.6" cy="444.4" r="4.4" stroke="#202020" stroke-width="0.6" fill="none"/>
<circle cx="394.17" cy="472.97" r="2.7" stroke="#202020" stroke-width="1.0" fill="#fff"/>
<circle cx="394.17" cy="472.97" r="1.5" stroke="#333" stroke-width="0.5" fill="none"/>
<circle cx="337.03" cy="472.97" r="2.7" stroke="#202020" stroke-width="1.0" fill="#fff"/>
<circle cx="337.03" cy="472.97" r="1.5" stroke="#333" stroke-width="0.5" fill="none"/>
<circle cx="337.03" cy="415.83" r="2.7" stroke="#202020" stroke-width="1.0" fill="#fff"/>
<circle cx="337.03" cy="415.83" r="1.5" stroke="#333" stroke-width="0.5" fill="none"/>
<circle cx="394.17" cy="415.83" r="2.7" stroke="#202020" stroke-width="1.0" fill="#fff"/>
<circle cx="394.17" cy="415.83" r="1.5" stroke="#333" stroke-width="0.5" fill="none"/>
<path d="M441.4 379.5 H349.7 Q347.3 379.5 347.3 381.9 V396.5" stroke="#202020" stroke-width="0.9" fill="none" />
<line x1="385.3" y1="381" x2="385.3" y2="400" stroke="#202020" stroke-width="0.9"/>
<line x1="386.8" y1="381.5" x2="386.8" y2="397.5" stroke="#202020" stroke-width="0.7"/>
<path clip-path="url(#h22)" d="M380.1 395.1 L387.7 387.5 M380.1 387.5 L387.7 395.1 M382 395.1 L389.6 387.5 M382 387.5 L389.6 395.1 M383.9 395.1 L391.5 387.5 M383.9 387.5 L391.5 395.1 M385.8 395.1 L393.4 387.5 M385.8 387.5 L393.4 395.1 M387.7 395.1 L395.3 387.5 M387.7 387.5 L395.3 395.1 M389.6 395.1 L397.2 387.5 M389.6 387.5 L397.2 395.1 M391.5 395.1 L399.1 387.5 M391.5 387.5 L399.1 395.1 M393.4 395.1 L401 387.5 M393.4 387.5 L401 395.1 M395.3 395.1 L402.9 387.5 M395.3 387.5 L402.9 395.1 M397.2 395.1 L404.8 387.5 M397.2 387.5 L404.8 395.1" stroke="#202020" stroke-width="0.5" fill="none"/>
<path d="M387.7 387.5 L391.3 387.5 L391.3 395.1 L387.7 395.1 Z" stroke="#202020" stroke-width="0.8" fill="none" />
<rect x="391.3" y="388.9" width="3.4" height="5" stroke="#202020" stroke-width="0.8" fill="none"/>
<line x1="394.7" y1="391.5" x2="395.9" y2="391.5" stroke="#202020" stroke-width="0.8"/>
<ellipse cx="386.1" cy="382.1" rx="1.5" ry="1.9" fill="#1c1c1c"/>
<line x1="345.3" y1="394.5" x2="386.3" y2="383.3" stroke="#1a1a1a" stroke-width="1.6"/>
<line x1="345.7" y1="396.7" x2="385.3" y2="385.9" stroke="#202020" stroke-width="0.7"/>
<ellipse cx="345.9" cy="393.9" rx="1.7" ry="1.7" fill="#1c1c1c"/>
<ellipse cx="362.7" cy="393.1" rx="1.5" ry="1.5" fill="#1c1c1c"/>
<path d="M357.9 392.3 Q361.3 384.9 367.7 384.7 Q372.3 385.1 375.3 387.9" stroke="#202020" stroke-width="1.0" fill="none" />
<path d="M360.3 391.5 Q363.3 387.5 367.7 387.1" stroke="#202020" stroke-width="0.7" fill="none" />
<line x1="344.3" y1="397.9" x2="359.3" y2="397.9" stroke="#202020" stroke-width="1.0"/>
<line x1="344.1" y1="396.1" x2="355.3" y2="396.1" stroke="#1c1c1c" stroke-width="1.4"/>
<ellipse cx="358.3" cy="395.1" rx="1.2" ry="1" fill="#1c1c1c"/>
<text transform="translate(407.4 401.2) rotate(0) scale(0.66 1)" font-size="8.8" fill="#303030" stroke="#303030" stroke-width="0.22" text-anchor="middle" font-weight="normal">4xØS</text>
<line x1="399.8" y1="403.4" x2="415" y2="403.4" stroke="#202020" stroke-width="0.7"/>
<line x1="399.8" y1="403.4" x2="395" y2="413.4" stroke="#202020" stroke-width="0.7"/>
<line x1="332.11" y1="421.81" x2="355.24" y2="437.41" stroke="#202020" stroke-width="0.9"/>
<line x1="375.96" y1="451.39" x2="399.09" y2="466.99" stroke="#202020" stroke-width="0.9"/>
<path d="M332.11 421.81 L335.18 422.98 L334.34 424.22 Z" fill="#202020"/>
<path d="M399.09 466.99 L396.02 465.82 L396.86 464.58 Z" fill="#202020"/>
<line x1="330.51" y1="424.21" x2="333.71" y2="419.41" stroke="#202020" stroke-width="0.7"/>
<line x1="397.49" y1="469.39" x2="400.69" y2="464.59" stroke="#202020" stroke-width="0.7"/>
<text transform="translate(349 429.2) rotate(34) scale(0.62 1)" font-size="9.4" fill="#303030" stroke="#303030" stroke-width="0.22" text-anchor="middle" font-weight="normal">ØM</text>
<path d="M372.46 470 A26.5 26.5 0 0 1 343.13 458.44" stroke="#202020" stroke-width="0.9" fill="none" />
<path d="M365.6 470.9 L368.6 470.15 L368.6 471.65 Z" fill="#202020"/>
<path d="M346.86 463.14 L344.21 461.55 L345.27 460.49 Z" fill="#202020"/>
<text transform="translate(358 467.4) rotate(0) scale(0.64 1)" font-size="9.2" fill="#303030" stroke="#303030" stroke-width="0.22" text-anchor="middle" font-weight="normal">45°</text>
<rect x="316.8" y="490.2" width="24.1" height="6.2" stroke="#202020" stroke-width="0.9" fill="none"/>
<rect x="390.5" y="490.2" width="23.6" height="6.2" stroke="#202020" stroke-width="0.9" fill="none"/>
<line x1="340.9" y1="490.2" x2="345.86" y2="486.72" stroke="#202020" stroke-width="0.9"/>
<line x1="390.5" y1="490.2" x2="385.34" y2="486.72" stroke="#202020" stroke-width="0.9"/>
<line x1="336.3" y1="490.2" x2="340.17" y2="483.57" stroke="#202020" stroke-width="0.9"/>
<line x1="395.1" y1="490.2" x2="391.03" y2="483.57" stroke="#202020" stroke-width="0.9"/>
<line x1="322.6" y1="482" x2="322.6" y2="496.4" stroke="#202020" stroke-width="0.7"/>
<line x1="327" y1="482" x2="327" y2="496.4" stroke="#202020" stroke-width="0.7"/>
<line x1="404.4" y1="490.2" x2="404.4" y2="496.4" stroke="#202020" stroke-width="0.7"/>
<line x1="408.8" y1="490.2" x2="408.8" y2="496.4" stroke="#202020" stroke-width="0.7"/>
<line x1="324.8" y1="485.5" x2="324.8" y2="515" stroke="#202020" stroke-width="0.9"/>
<line x1="406.6" y1="488.5" x2="406.6" y2="515" stroke="#202020" stroke-width="0.9"/>
<line x1="324.8" y1="512.5" x2="406.6" y2="512.5" stroke="#202020" stroke-width="0.9"/>
<path d="M324.8 512.5 L328.4 511.75 L328.4 513.25 Z" fill="#202020"/>
<path d="M406.6 512.5 L403 513.25 L403 511.75 Z" fill="#202020"/>
<text transform="translate(365.6 510.4) rotate(0) scale(0.64 1)" font-size="9.2" fill="#303030" stroke="#303030" stroke-width="0.22" text-anchor="middle" font-weight="normal">A</text>
<line x1="316.8" y1="496.4" x2="316.8" y2="527" stroke="#202020" stroke-width="0.9"/>
<line x1="414.1" y1="496.4" x2="414.1" y2="527" stroke="#202020" stroke-width="0.9"/>
<line x1="316.8" y1="523.7" x2="414.1" y2="523.7" stroke="#202020" stroke-width="0.9"/>
<path d="M316.8 523.7 L320.4 522.95 L320.4 524.45 Z" fill="#202020"/>
<path d="M414.1 523.7 L410.5 524.45 L410.5 522.95 Z" fill="#202020"/>
<text transform="translate(365.6 521.6) rotate(0) scale(0.64 1)" font-size="9.2" fill="#303030" stroke="#303030" stroke-width="0.22" text-anchor="middle" font-weight="normal">AB</text>
<text transform="translate(311.4 481.6) rotate(0) scale(0.6 1)" font-size="8.4" fill="#303030" stroke="#303030" stroke-width="0.22" text-anchor="middle" font-weight="normal">ØK</text>
<line x1="306.4" y1="484.2" x2="333.8" y2="484.2" stroke="#202020" stroke-width="0.7"/>
<path d="M322.6 484.2 L319.6 484.95 L319.6 483.45 Z" fill="#202020"/>
<path d="M327 484.2 L330 483.45 L330 484.95 Z" fill="#202020"/>
<line x1="414.1" y1="496.4" x2="441.4" y2="496.4" stroke="#202020" stroke-width="0.8"/>
<line x1="414.1" y1="490.2" x2="422.8" y2="490.2" stroke="#202020" stroke-width="0.8"/>
<line x1="438.9" y1="379.5" x2="438.9" y2="496.4" stroke="#202020" stroke-width="0.9"/>
<path d="M438.9 379.5 L439.65 383.1 L438.15 383.1 Z" fill="#202020"/>
<path d="M438.9 496.4 L438.15 492.8 L439.65 492.8 Z" fill="#202020"/>
<line x1="429" y1="444.4" x2="429" y2="496.4" stroke="#202020" stroke-width="0.9"/>
<path d="M429 444.4 L429.75 448 L428.25 448 Z" fill="#202020"/>
<path d="M429 496.4 L428.25 492.8 L429.75 492.8 Z" fill="#202020"/>
<line x1="420.8" y1="474" x2="420.8" y2="506" stroke="#202020" stroke-width="0.8"/>
<path d="M420.8 490.2 L420.05 487.2 L421.55 487.2 Z" fill="#202020"/>
<path d="M420.8 496.4 L421.55 499.4 L420.05 499.4 Z" fill="#202020"/>
<text transform="translate(436.7 438.5) rotate(-90) scale(0.64 1)" font-size="9.2" fill="#303030" stroke="#303030" stroke-width="0.22" text-anchor="middle" font-weight="normal">HD</text>
<text transform="translate(427 470.6) rotate(-90) scale(0.64 1)" font-size="9.2" fill="#303030" stroke="#303030" stroke-width="0.22" text-anchor="middle" font-weight="normal">H</text>
<text transform="translate(418.8 479.4) rotate(-90) scale(0.64 1)" font-size="9.2" fill="#303030" stroke="#303030" stroke-width="0.22" text-anchor="middle" font-weight="normal">HA</text>
<text transform="translate(504.4 368.2) rotate(0) scale(0.58 1)" font-size="11" fill="#303030" stroke="#303030" stroke-width="0.22" text-anchor="middle" font-weight="normal">H&gt;180</text>
<line x1="503.7" y1="394.5" x2="503.7" y2="500" stroke="#444" stroke-width="1.0" stroke-dasharray="14 2 3 2"/>
<line x1="451.7" y1="444.4" x2="568.5" y2="444.4" stroke="#444" stroke-width="1.0" stroke-dasharray="14 2 3 2"/>
<circle cx="503.7" cy="444.4" r="47.5" stroke="#202020" stroke-width="1.2" fill="none"/>
<circle cx="503.7" cy="444.4" r="40.4" stroke="#333" stroke-width="0.7" fill="none" stroke-dasharray="9 3"/>
<circle cx="503.7" cy="444.4" r="34.7" stroke="#202020" stroke-width="1.2" fill="none"/>
<circle cx="503.7" cy="444.4" r="31.9" stroke="#202020" stroke-width="0.8" fill="none"/>
<circle cx="503.7" cy="444.4" r="12.5" stroke="#202020" stroke-width="1.3" fill="none"/>
<circle cx="503.7" cy="444.4" r="10.6" stroke="#202020" stroke-width="0.6" fill="none"/>
<circle cx="503.7" cy="444.4" r="8.7" stroke="#202020" stroke-width="0.9" fill="none"/>
<circle cx="503.7" cy="444.4" r="6" stroke="#202020" stroke-width="1.3" fill="none"/>
<circle cx="503.7" cy="444.4" r="4.4" stroke="#202020" stroke-width="0.6" fill="none"/>
<circle cx="541.02" cy="459.86" r="2.7" stroke="#202020" stroke-width="1.0" fill="#fff"/>
<circle cx="541.02" cy="459.86" r="1.5" stroke="#333" stroke-width="0.5" fill="none"/>
<circle cx="519.16" cy="481.72" r="2.7" stroke="#202020" stroke-width="1.0" fill="#fff"/>
<circle cx="519.16" cy="481.72" r="1.5" stroke="#333" stroke-width="0.5" fill="none"/>
<circle cx="488.24" cy="481.72" r="2.7" stroke="#202020" stroke-width="1.0" fill="#fff"/>
<circle cx="488.24" cy="481.72" r="1.5" stroke="#333" stroke-width="0.5" fill="none"/>
<circle cx="466.38" cy="459.86" r="2.7" stroke="#202020" stroke-width="1.0" fill="#fff"/>
<circle cx="466.38" cy="459.86" r="1.5" stroke="#333" stroke-width="0.5" fill="none"/>
<circle cx="466.38" cy="428.94" r="2.7" stroke="#202020" stroke-width="1.0" fill="#fff"/>
<circle cx="466.38" cy="428.94" r="1.5" stroke="#333" stroke-width="0.5" fill="none"/>
<circle cx="488.24" cy="407.08" r="2.7" stroke="#202020" stroke-width="1.0" fill="#fff"/>
<circle cx="488.24" cy="407.08" r="1.5" stroke="#333" stroke-width="0.5" fill="none"/>
<circle cx="519.16" cy="407.08" r="2.7" stroke="#202020" stroke-width="1.0" fill="#fff"/>
<circle cx="519.16" cy="407.08" r="1.5" stroke="#333" stroke-width="0.5" fill="none"/>
<circle cx="541.02" cy="428.94" r="2.7" stroke="#202020" stroke-width="1.0" fill="#fff"/>
<circle cx="541.02" cy="428.94" r="1.5" stroke="#333" stroke-width="0.5" fill="none"/>
<path d="M579.4 379.5 H487.8 Q485.4 379.5 485.4 381.9 V396.5" stroke="#202020" stroke-width="0.9" fill="none" />
<line x1="523.4" y1="381" x2="523.4" y2="400" stroke="#202020" stroke-width="0.9"/>
<line x1="524.9" y1="381.5" x2="524.9" y2="397.5" stroke="#202020" stroke-width="0.7"/>
<path clip-path="url(#h23)" d="M518.2 395.1 L525.8 387.5 M518.2 387.5 L525.8 395.1 M520.1 395.1 L527.7 387.5 M520.1 387.5 L527.7 395.1 M522 395.1 L529.6 387.5 M522 387.5 L529.6 395.1 M523.9 395.1 L531.5 387.5 M523.9 387.5 L531.5 395.1 M525.8 395.1 L533.4 387.5 M525.8 387.5 L533.4 395.1 M527.7 395.1 L535.3 387.5 M527.7 387.5 L535.3 395.1 M529.6 395.1 L537.2 387.5 M529.6 387.5 L537.2 395.1 M531.5 395.1 L539.1 387.5 M531.5 387.5 L539.1 395.1 M533.4 395.1 L541 387.5 M533.4 387.5 L541 395.1 M535.3 395.1 L542.9 387.5 M535.3 387.5 L542.9 395.1" stroke="#202020" stroke-width="0.5" fill="none"/>
<path d="M525.8 387.5 L529.4 387.5 L529.4 395.1 L525.8 395.1 Z" stroke="#202020" stroke-width="0.8" fill="none" />
<rect x="529.4" y="388.9" width="3.4" height="5" stroke="#202020" stroke-width="0.8" fill="none"/>
<line x1="532.8" y1="391.5" x2="534" y2="391.5" stroke="#202020" stroke-width="0.8"/>
<ellipse cx="524.2" cy="382.1" rx="1.5" ry="1.9" fill="#1c1c1c"/>
<line x1="483.4" y1="394.5" x2="524.4" y2="383.3" stroke="#1a1a1a" stroke-width="1.6"/>
<line x1="483.8" y1="396.7" x2="523.4" y2="385.9" stroke="#202020" stroke-width="0.7"/>
<ellipse cx="484" cy="393.9" rx="1.7" ry="1.7" fill="#1c1c1c"/>
<ellipse cx="500.8" cy="393.1" rx="1.5" ry="1.5" fill="#1c1c1c"/>
<path d="M496 392.3 Q499.4 384.9 505.8 384.7 Q510.4 385.1 513.4 387.9" stroke="#202020" stroke-width="1.0" fill="none" />
<path d="M498.4 391.5 Q501.4 387.5 505.8 387.1" stroke="#202020" stroke-width="0.7" fill="none" />
<line x1="482.4" y1="397.9" x2="497.4" y2="397.9" stroke="#202020" stroke-width="1.0"/>
<line x1="482.2" y1="396.1" x2="493.4" y2="396.1" stroke="#1c1c1c" stroke-width="1.4"/>
<ellipse cx="496.4" cy="395.1" rx="1.2" ry="1" fill="#1c1c1c"/>
<text transform="translate(556.5 403.6) rotate(0) scale(0.66 1)" font-size="8.8" fill="#303030" stroke="#303030" stroke-width="0.22" text-anchor="middle" font-weight="normal">8xØS</text>
<line x1="549" y1="405.8" x2="564" y2="405.8" stroke="#202020" stroke-width="0.7"/>
<line x1="549" y1="405.8" x2="542" y2="426.6" stroke="#202020" stroke-width="0.7"/>
<line x1="470.21" y1="421.81" x2="493.34" y2="437.41" stroke="#202020" stroke-width="0.9"/>
<line x1="514.06" y1="451.39" x2="537.19" y2="466.99" stroke="#202020" stroke-width="0.9"/>
<path d="M470.21 421.81 L473.28 422.98 L472.44 424.22 Z" fill="#202020"/>
<path d="M537.19 466.99 L534.12 465.82 L534.96 464.58 Z" fill="#202020"/>
<line x1="468.61" y1="424.21" x2="471.81" y2="419.41" stroke="#202020" stroke-width="0.7"/>
<line x1="535.59" y1="469.39" x2="538.79" y2="464.59" stroke="#202020" stroke-width="0.7"/>
<text transform="translate(487.1 429.2) rotate(34) scale(0.62 1)" font-size="9.4" fill="#303030" stroke="#303030" stroke-width="0.22" text-anchor="middle" font-weight="normal">ØM</text>
<path d="M510.02 467.97 A24.4 24.4 0 0 1 489.53 464.26" stroke="#202020" stroke-width="0.9" fill="none" />
<path d="M503.7 468.8 L506.7 468.05 L506.7 469.55 Z" fill="#202020"/>
<path d="M494.36 466.94 L491.3 466.49 L491.88 465.1 Z" fill="#202020"/>
<line x1="498.34" y1="457.33" x2="490.69" y2="475.81" stroke="#444" stroke-width="0.7" stroke-dasharray="6 2 2 2"/>
<text transform="translate(487.8 462.8) rotate(0) scale(0.7 1)" font-size="8.4" fill="#303030" stroke="#303030" stroke-width="0.22" text-anchor="middle" font-weight="normal">22,5°</text>
<rect x="455.6" y="490.2" width="22.8" height="6.2" stroke="#202020" stroke-width="0.9" fill="none"/>
<rect x="529.3" y="490.2" width="23" height="6.2" stroke="#202020" stroke-width="0.9" fill="none"/>
<line x1="478.4" y1="490.2" x2="483.63" y2="487.45" stroke="#202020" stroke-width="0.9"/>
<line x1="529.3" y1="490.2" x2="523.77" y2="487.45" stroke="#202020" stroke-width="0.9"/>
<line x1="473.8" y1="490.2" x2="477.83" y2="484.24" stroke="#202020" stroke-width="0.9"/>
<line x1="533.9" y1="490.2" x2="529.57" y2="484.24" stroke="#202020" stroke-width="0.9"/>
<line x1="460.8" y1="482" x2="460.8" y2="496.4" stroke="#202020" stroke-width="0.7"/>
<line x1="465.2" y1="482" x2="465.2" y2="496.4" stroke="#202020" stroke-width="0.7"/>
<line x1="543.2" y1="490.2" x2="543.2" y2="496.4" stroke="#202020" stroke-width="0.7"/>
<line x1="547.6" y1="490.2" x2="547.6" y2="496.4" stroke="#202020" stroke-width="0.7"/>
<line x1="463" y1="485.5" x2="463" y2="515" stroke="#202020" stroke-width="0.9"/>
<line x1="545.4" y1="488.5" x2="545.4" y2="515" stroke="#202020" stroke-width="0.9"/>
<line x1="463" y1="512.5" x2="545.4" y2="512.5" stroke="#202020" stroke-width="0.9"/>
<path d="M463 512.5 L466.6 511.75 L466.6 513.25 Z" fill="#202020"/>
<path d="M545.4 512.5 L541.8 513.25 L541.8 511.75 Z" fill="#202020"/>
<text transform="translate(503.7 510.4) rotate(0) scale(0.64 1)" font-size="9.2" fill="#303030" stroke="#303030" stroke-width="0.22" text-anchor="middle" font-weight="normal">A</text>
<line x1="455.6" y1="496.4" x2="455.6" y2="527" stroke="#202020" stroke-width="0.9"/>
<line x1="552.3" y1="496.4" x2="552.3" y2="527" stroke="#202020" stroke-width="0.9"/>
<line x1="455.6" y1="523.7" x2="552.3" y2="523.7" stroke="#202020" stroke-width="0.9"/>
<path d="M455.6 523.7 L459.2 522.95 L459.2 524.45 Z" fill="#202020"/>
<path d="M552.3 523.7 L548.7 524.45 L548.7 522.95 Z" fill="#202020"/>
<text transform="translate(503.7 521.6) rotate(0) scale(0.64 1)" font-size="9.2" fill="#303030" stroke="#303030" stroke-width="0.22" text-anchor="middle" font-weight="normal">AB</text>
<text transform="translate(449.6 481.6) rotate(0) scale(0.6 1)" font-size="8.4" fill="#303030" stroke="#303030" stroke-width="0.22" text-anchor="middle" font-weight="normal">ØK</text>
<line x1="444.6" y1="484.2" x2="472" y2="484.2" stroke="#202020" stroke-width="0.7"/>
<path d="M460.8 484.2 L457.8 484.95 L457.8 483.45 Z" fill="#202020"/>
<path d="M465.2 484.2 L468.2 483.45 L468.2 484.95 Z" fill="#202020"/>
<line x1="552.3" y1="496.4" x2="579.4" y2="496.4" stroke="#202020" stroke-width="0.8"/>
<line x1="552.3" y1="490.2" x2="561" y2="490.2" stroke="#202020" stroke-width="0.8"/>
<line x1="576.9" y1="379.5" x2="576.9" y2="496.4" stroke="#202020" stroke-width="0.9"/>
<path d="M576.9 379.5 L577.65 383.1 L576.15 383.1 Z" fill="#202020"/>
<path d="M576.9 496.4 L576.15 492.8 L577.65 492.8 Z" fill="#202020"/>
<line x1="567" y1="444.4" x2="567" y2="496.4" stroke="#202020" stroke-width="0.9"/>
<path d="M567 444.4 L567.75 448 L566.25 448 Z" fill="#202020"/>
<path d="M567 496.4 L566.25 492.8 L567.75 492.8 Z" fill="#202020"/>
<line x1="559" y1="474" x2="559" y2="506" stroke="#202020" stroke-width="0.8"/>
<path d="M559 490.2 L558.25 487.2 L559.75 487.2 Z" fill="#202020"/>
<path d="M559 496.4 L559.75 499.4 L558.25 499.4 Z" fill="#202020"/>
<text transform="translate(574.7 438.5) rotate(-90) scale(0.64 1)" font-size="9.2" fill="#303030" stroke="#303030" stroke-width="0.22" text-anchor="middle" font-weight="normal">HD</text>
<text transform="translate(565 470.6) rotate(-90) scale(0.64 1)" font-size="9.2" fill="#303030" stroke="#303030" stroke-width="0.22" text-anchor="middle" font-weight="normal">H</text>
<text transform="translate(557 479.4) rotate(-90) scale(0.64 1)" font-size="9.2" fill="#303030" stroke="#303030" stroke-width="0.22" text-anchor="middle" font-weight="normal">HA</text>
</svg><!--SV1-->

<div id="tw" style="position:absolute;left:0;top:0;width:645px;height:862px;will-change:transform"><!--TB0-->
<div class="r" style="left:30.8px;top:604.5px;width:583.9px;height:59.5px;background:#e5e5e5"></div>
<div class="r" style="left:30.8px;top:701.0px;width:583.9px;height:37.4px;background:#d3d3d3"></div>
<div class="r" style="left:30.8px;top:756.5px;width:583.9px;height:36.5px;background:#d3d3d3"></div>
<div class="c b" style="left:30.8px;top:608.2px;width:61.9px;height:44.5px"><span>Тип</span></div>
<div class="c b" style="left:92.7px;top:606.0px;width:522.0px;height:16.5px"><span>Габаритные, установочные и присоединительные размеры (*)</span></div>
<div class="c b" style="left:92.7px;top:622.0px;width:26.1px;height:28.0px"><span>L<br>l30</span></div>
<div class="c b" style="left:118.8px;top:622.0px;width:26.1px;height:28.0px"><span>S<br>d22</span></div>
<div class="c b" style="left:144.9px;top:622.0px;width:26.1px;height:28.0px"><span>P<br>d24</span></div>
<div class="c b" style="left:171.0px;top:622.0px;width:26.1px;height:28.0px"><span>M<br>d20</span></div>
<div class="c b" style="left:197.1px;top:622.0px;width:26.1px;height:28.0px"><span>N<br>d25</span></div>
<div class="c b" style="left:223.2px;top:622.0px;width:26.1px;height:28.0px"><span>E1</span></div>
<div class="c b" style="left:249.3px;top:622.0px;width:26.1px;height:28.0px"><span>E<br>l1</span></div>
<div class="c b" style="left:275.4px;top:622.0px;width:26.1px;height:28.0px"><span>C<br>l31</span></div>
<div class="c b" style="left:301.5px;top:622.0px;width:26.1px;height:28.0px"><span>B<br>l10</span></div>
<div class="c b" style="left:327.6px;top:622.0px;width:26.1px;height:28.0px"><span>H<br>h</span></div>
<div class="c b" style="left:353.7px;top:622.0px;width:26.1px;height:28.0px"><span>A<br>b10</span></div>
<div class="c b" style="left:379.8px;top:622.0px;width:26.1px;height:28.0px"><span>K<br>d10</span></div>
<div class="c b" style="left:405.9px;top:622.0px;width:26.1px;height:28.0px"><span>F<br>b1</span></div>
<div class="c b" style="left:432.0px;top:622.0px;width:26.1px;height:28.0px"><span>D1<br>d5</span></div>
<div class="c b" style="left:458.1px;top:622.0px;width:26.1px;height:28.0px"><span>D<br>D1</span></div>
<div class="c b" style="left:484.2px;top:622.0px;width:26.1px;height:28.0px"><span>LC<br>l33</span></div>
<div class="c b" style="left:510.3px;top:622.0px;width:26.1px;height:28.0px"><span>CA<br>l31*</span></div>
<div class="c b" style="left:536.4px;top:622.0px;width:26.1px;height:28.0px"><span>T<br>L20</span></div>
<div class="c b" style="left:562.5px;top:622.0px;width:26.1px;height:28.0px"><span>GD</span></div>
<div class="c b" style="left:588.6px;top:622.0px;width:26.1px;height:28.0px"><span>G<br>h1</span></div>
<div class="c b" style="left:30.8px;top:649.5px;width:61.9px;height:15.0px"><span>1</span></div>
<div class="c b" style="left:92.7px;top:649.5px;width:26.1px;height:15.0px"><span>2</span></div>
<div class="c b" style="left:118.8px;top:649.5px;width:26.1px;height:15.0px"><span>3</span></div>
<div class="c b" style="left:144.9px;top:649.5px;width:26.1px;height:15.0px"><span>4</span></div>
<div class="c b" style="left:171.0px;top:649.5px;width:26.1px;height:15.0px"><span>5</span></div>
<div class="c b" style="left:197.1px;top:649.5px;width:26.1px;height:15.0px"><span>6</span></div>
<div class="c b" style="left:223.2px;top:649.5px;width:26.1px;height:15.0px"><span>7</span></div>
<div class="c b" style="left:249.3px;top:649.5px;width:26.1px;height:15.0px"><span>8</span></div>
<div class="c b" style="left:275.4px;top:649.5px;width:26.1px;height:15.0px"><span>9</span></div>
<div class="c b" style="left:301.5px;top:649.5px;width:26.1px;height:15.0px"><span>10</span></div>
<div class="c b" style="left:327.6px;top:649.5px;width:26.1px;height:15.0px"><span>11</span></div>
<div class="c b" style="left:353.7px;top:649.5px;width:26.1px;height:15.0px"><span>12</span></div>
<div class="c b" style="left:379.8px;top:649.5px;width:26.1px;height:15.0px"><span>13</span></div>
<div class="c b" style="left:405.9px;top:649.5px;width:26.1px;height:15.0px"><span>14</span></div>
<div class="c b" style="left:432.0px;top:649.5px;width:26.1px;height:15.0px"><span>15</span></div>
<div class="c b" style="left:458.1px;top:649.5px;width:26.1px;height:15.0px"><span>16</span></div>
<div class="c b" style="left:484.2px;top:649.5px;width:26.1px;height:15.0px"><span>17</span></div>
<div class="c b" style="left:510.3px;top:649.5px;width:26.1px;height:15.0px"><span>18</span></div>
<div class="c b" style="left:536.4px;top:649.5px;width:26.1px;height:15.0px"><span>19</span></div>
<div class="c b" style="left:562.5px;top:649.5px;width:26.1px;height:15.0px"><span>20</span></div>
<div class="c b" style="left:588.6px;top:649.5px;width:26.1px;height:15.0px"><span>21</span></div>
<div class="c " style="left:30.8px;top:665.5px;width:61.9px;height:18.3px"><span>МТН011-6</span></div>
<div class="c " style="left:30.8px;top:683.8px;width:61.9px;height:18.7px"><span>МТН012-6</span></div>
<div class="r" style="left:30.8px;top:681.80px;width:61.9px;height:1.0px;background:#4a4a4a"></div>
<div class="c " style="left:92.7px;top:665.5px;width:26.1px;height:37.0px"><span>575</span></div>
<div class="c " style="left:118.8px;top:665.5px;width:26.1px;height:37.0px"><span>14</span></div>
<div class="c " style="left:144.9px;top:665.5px;width:26.1px;height:37.0px"><span>280</span></div>
<div class="c " style="left:171.0px;top:665.5px;width:26.1px;height:37.0px"><span>255</span></div>
<div class="c " style="left:197.1px;top:665.5px;width:26.1px;height:37.0px"><span>215</span></div>
<div class="c " style="left:223.2px;top:665.5px;width:26.1px;height:18.3px"><span>-</span></div>
<div class="c " style="left:223.2px;top:683.8px;width:26.1px;height:18.7px"><span>-</span></div>
<div class="r" style="left:223.2px;top:681.80px;width:26.1px;height:1.0px;background:#4a4a4a"></div>
<div class="c " style="left:249.3px;top:663.0px;width:26.1px;height:37.0px"><span>60</span></div>
<div class="c n" style="left:275.4px;top:665.5px;width:26.1px;height:18.3px"><span>145,5</span></div>
<div class="c n" style="left:275.4px;top:683.8px;width:26.1px;height:18.7px"><span>140,5</span></div>
<div class="r" style="left:275.4px;top:681.80px;width:26.1px;height:1.0px;background:#4a4a4a"></div>
<div class="c " style="left:301.5px;top:665.5px;width:26.1px;height:18.3px"><span>150</span></div>
<div class="c " style="left:301.5px;top:683.8px;width:26.1px;height:18.7px"><span>190</span></div>
<div class="r" style="left:301.5px;top:681.80px;width:26.1px;height:1.0px;background:#4a4a4a"></div>
<div class="c " style="left:327.6px;top:665.5px;width:26.1px;height:37.0px"><span>112</span></div>
<div class="c " style="left:353.7px;top:665.5px;width:26.1px;height:37.0px"><span>180</span></div>
<div class="c " style="left:379.8px;top:665.5px;width:26.1px;height:37.0px"><span>12</span></div>
<div class="c " style="left:405.9px;top:665.5px;width:26.1px;height:37.0px"><span>8</span></div>
<div class="c " style="left:432.0px;top:665.5px;width:26.1px;height:18.3px"><span>-</span></div>
<div class="c " style="left:432.0px;top:683.8px;width:26.1px;height:18.7px"><span>-</span></div>
<div class="r" style="left:432.0px;top:681.80px;width:26.1px;height:1.0px;background:#4a4a4a"></div>
<div class="c " style="left:458.1px;top:665.5px;width:26.1px;height:37.0px"><span>28</span></div>
<div class="c " style="left:484.2px;top:665.5px;width:26.1px;height:18.3px"><span>646</span></div>
<div class="c " style="left:484.2px;top:683.8px;width:26.1px;height:18.7px"><span>646</span></div>
<div class="r" style="left:484.2px;top:681.80px;width:26.1px;height:1.0px;background:#4a4a4a"></div>
<div class="c n" style="left:510.3px;top:665.5px;width:26.1px;height:18.3px"><span>230,5</span></div>
<div class="c n" style="left:510.3px;top:683.8px;width:26.1px;height:18.7px"><span>195,5</span></div>
<div class="r" style="left:510.3px;top:681.80px;width:26.1px;height:1.0px;background:#4a4a4a"></div>
<div class="c " style="left:536.4px;top:665.5px;width:26.1px;height:37.0px"><span>4</span></div>
<div class="c " style="left:562.5px;top:665.5px;width:26.1px;height:37.0px"><span>7</span></div>
<div class="c " style="left:588.6px;top:665.5px;width:26.1px;height:37.0px"><span>24</span></div>
<div class="c " style="left:30.8px;top:702.5px;width:61.9px;height:18.8px"><span>МТН111-6</span></div>
<div class="c " style="left:30.8px;top:721.3px;width:61.9px;height:18.6px"><span>МТН112-6</span></div>
<div class="r" style="left:30.8px;top:719.30px;width:61.9px;height:1.0px;background:#4a4a4a"></div>
<div class="c " style="left:92.7px;top:702.5px;width:26.1px;height:37.4px"><span>640</span></div>
<div class="c " style="left:118.8px;top:702.5px;width:26.1px;height:37.4px"><span>18</span></div>
<div class="c " style="left:144.9px;top:702.5px;width:26.1px;height:37.4px"><span>330</span></div>
<div class="c " style="left:171.0px;top:702.5px;width:26.1px;height:37.4px"><span>300</span></div>
<div class="c " style="left:197.1px;top:702.5px;width:26.1px;height:37.4px"><span>250</span></div>
<div class="c " style="left:223.2px;top:702.5px;width:26.1px;height:18.8px"><span>-</span></div>
<div class="c " style="left:223.2px;top:721.3px;width:26.1px;height:18.6px"><span>-</span></div>
<div class="r" style="left:223.2px;top:719.30px;width:26.1px;height:1.0px;background:#4a4a4a"></div>
<div class="c " style="left:249.3px;top:700.0px;width:26.1px;height:37.4px"><span>80</span></div>
<div class="c " style="left:275.4px;top:702.5px;width:26.1px;height:18.8px"><span>154</span></div>
<div class="c " style="left:275.4px;top:721.3px;width:26.1px;height:18.6px"><span>149</span></div>
<div class="r" style="left:275.4px;top:719.30px;width:26.1px;height:1.0px;background:#4a4a4a"></div>
<div class="c " style="left:301.5px;top:702.5px;width:26.1px;height:18.8px"><span>190</span></div>
<div class="c " style="left:301.5px;top:721.3px;width:26.1px;height:18.6px"><span>235</span></div>
<div class="r" style="left:301.5px;top:719.30px;width:26.1px;height:1.0px;background:#4a4a4a"></div>
<div class="c " style="left:327.6px;top:702.5px;width:26.1px;height:37.4px"><span>132</span></div>
<div class="c " style="left:353.7px;top:702.5px;width:26.1px;height:37.4px"><span>220</span></div>
<div class="c " style="left:379.8px;top:702.5px;width:26.1px;height:37.4px"><span>15</span></div>
<div class="c " style="left:405.9px;top:702.5px;width:26.1px;height:37.4px"><span>10</span></div>
<div class="c " style="left:432.0px;top:702.5px;width:26.1px;height:18.8px"><span>-</span></div>
<div class="c " style="left:432.0px;top:721.3px;width:26.1px;height:18.6px"><span>-</span></div>
<div class="r" style="left:432.0px;top:719.30px;width:26.1px;height:1.0px;background:#4a4a4a"></div>
<div class="c " style="left:458.1px;top:702.5px;width:26.1px;height:37.4px"><span>35</span></div>
<div class="c " style="left:484.2px;top:702.5px;width:26.1px;height:37.4px"><span>728</span></div>
<div class="c " style="left:510.3px;top:702.5px;width:26.1px;height:18.8px"><span>224</span></div>
<div class="c " style="left:510.3px;top:721.3px;width:26.1px;height:18.6px"><span>184</span></div>
<div class="r" style="left:510.3px;top:719.30px;width:26.1px;height:1.0px;background:#4a4a4a"></div>
<div class="c " style="left:536.4px;top:702.5px;width:26.1px;height:37.4px"><span>5</span></div>
<div class="c " style="left:562.5px;top:702.5px;width:26.1px;height:37.4px"><span>8</span></div>
<div class="c " style="left:588.6px;top:702.5px;width:26.1px;height:37.4px"><span>30</span></div>
<div class="c " style="left:30.8px;top:739.9px;width:61.9px;height:18.1px"><span>МТН211-6</span></div>
<div class="c " style="left:92.7px;top:739.9px;width:26.1px;height:18.1px"><span>728</span></div>
<div class="c " style="left:118.8px;top:739.9px;width:26.1px;height:18.1px"><span>18</span></div>
<div class="c " style="left:144.9px;top:739.9px;width:26.1px;height:18.1px"><span>330</span></div>
<div class="c " style="left:171.0px;top:739.9px;width:26.1px;height:18.1px"><span>300</span></div>
<div class="c " style="left:197.1px;top:739.9px;width:26.1px;height:18.1px"><span>250</span></div>
<div class="c " style="left:223.2px;top:739.9px;width:26.1px;height:18.1px"><span>-</span></div>
<div class="c " style="left:249.3px;top:739.9px;width:26.1px;height:18.1px"><span>110</span></div>
<div class="c " style="left:275.4px;top:739.9px;width:26.1px;height:18.1px"><span>150</span></div>
<div class="c " style="left:301.5px;top:739.9px;width:26.1px;height:18.1px"><span>243</span></div>
<div class="c " style="left:327.6px;top:739.9px;width:26.1px;height:18.1px"><span>160</span></div>
<div class="c " style="left:353.7px;top:739.9px;width:26.1px;height:18.1px"><span>245</span></div>
<div class="c " style="left:379.8px;top:739.9px;width:26.1px;height:18.1px"><span>15</span></div>
<div class="c " style="left:405.9px;top:739.9px;width:26.1px;height:18.1px"><span>12</span></div>
<div class="c " style="left:432.0px;top:739.9px;width:26.1px;height:18.1px"><span>-</span></div>
<div class="c " style="left:458.1px;top:739.9px;width:26.1px;height:18.1px"><span>40</span></div>
<div class="c " style="left:484.2px;top:739.9px;width:26.1px;height:18.1px"><span>843</span></div>
<div class="c " style="left:510.3px;top:739.9px;width:26.1px;height:18.1px"><span>230</span></div>
<div class="c " style="left:536.4px;top:739.9px;width:26.1px;height:18.1px"><span>5</span></div>
<div class="c " style="left:562.5px;top:739.9px;width:26.1px;height:18.1px"><span>8</span></div>
<div class="c " style="left:588.6px;top:739.9px;width:26.1px;height:18.1px"><span>35</span></div>
<div class="c " style="left:30.8px;top:758.0px;width:61.9px;height:18.5px"><span>МТН311</span></div>
<div class="c " style="left:30.8px;top:776.5px;width:61.9px;height:18.0px"><span>МТН312</span></div>
<div class="r" style="left:30.8px;top:774.50px;width:61.9px;height:1.0px;background:#4a4a4a"></div>
<div class="c " style="left:92.7px;top:758.0px;width:26.1px;height:18.5px"><span>775</span></div>
<div class="c " style="left:92.7px;top:776.5px;width:26.1px;height:18.0px"><span>840</span></div>
<div class="r" style="left:92.7px;top:774.50px;width:26.1px;height:1.0px;background:#4a4a4a"></div>
<div class="c " style="left:118.8px;top:758.0px;width:26.1px;height:36.5px"><span>18</span></div>
<div class="c " style="left:144.9px;top:758.0px;width:26.1px;height:36.5px"><span>350</span></div>
<div class="c " style="left:171.0px;top:758.0px;width:26.1px;height:36.5px"><span>300</span></div>
<div class="c " style="left:197.1px;top:758.0px;width:26.1px;height:36.5px"><span>250</span></div>
<div class="c " style="left:223.2px;top:758.0px;width:26.1px;height:18.5px"><span>-</span></div>
<div class="c " style="left:223.2px;top:776.5px;width:26.1px;height:18.0px"><span>-</span></div>
<div class="r" style="left:223.2px;top:774.50px;width:26.1px;height:1.0px;background:#4a4a4a"></div>
<div class="c " style="left:249.3px;top:758.0px;width:26.1px;height:36.5px"><span>110</span></div>
<div class="c " style="left:275.4px;top:758.0px;width:26.1px;height:18.5px"><span>270</span></div>
<div class="c " style="left:275.4px;top:776.5px;width:26.1px;height:18.0px"><span>260</span></div>
<div class="r" style="left:275.4px;top:774.50px;width:26.1px;height:1.0px;background:#4a4a4a"></div>
<div class="c " style="left:301.5px;top:758.0px;width:26.1px;height:18.5px"><span>260</span></div>
<div class="c " style="left:301.5px;top:776.5px;width:26.1px;height:18.0px"><span>320</span></div>
<div class="r" style="left:301.5px;top:774.50px;width:26.1px;height:1.0px;background:#4a4a4a"></div>
<div class="c " style="left:327.6px;top:758.0px;width:26.1px;height:36.5px"><span>180</span></div>
<div class="c " style="left:353.7px;top:758.0px;width:26.1px;height:36.5px"><span>280</span></div>
<div class="c " style="left:379.8px;top:758.0px;width:26.1px;height:36.5px"><span>24</span></div>
<div class="c " style="left:405.9px;top:758.0px;width:26.1px;height:36.5px"><span>14</span></div>
<div class="c " style="left:432.0px;top:758.0px;width:26.1px;height:18.5px"><span>-</span></div>
<div class="c " style="left:432.0px;top:776.5px;width:26.1px;height:18.0px"><span>-</span></div>
<div class="r" style="left:432.0px;top:774.50px;width:26.1px;height:1.0px;background:#4a4a4a"></div>
<div class="c " style="left:458.1px;top:758.0px;width:26.1px;height:36.5px"><span>50</span></div>
<div class="c " style="left:484.2px;top:758.0px;width:26.1px;height:18.5px"><span>905</span></div>
<div class="c " style="left:484.2px;top:776.5px;width:26.1px;height:18.0px"><span>970</span></div>
<div class="r" style="left:484.2px;top:774.50px;width:26.1px;height:1.0px;background:#4a4a4a"></div>
<div class="c " style="left:510.3px;top:758.0px;width:26.1px;height:18.5px"><span>155</span></div>
<div class="c " style="left:510.3px;top:776.5px;width:26.1px;height:18.0px"><span>170</span></div>
<div class="r" style="left:510.3px;top:774.50px;width:26.1px;height:1.0px;background:#4a4a4a"></div>
<div class="c " style="left:536.4px;top:758.0px;width:26.1px;height:36.5px"><span>5</span></div>
<div class="c " style="left:562.5px;top:758.0px;width:26.1px;height:36.5px"><span>9</span></div>
<div class="c " style="left:588.6px;top:758.0px;width:26.1px;height:36.5px"><span>44,5</span></div>
<div class="c " style="left:30.8px;top:794.5px;width:61.9px;height:18.6px"><span>МТН411</span></div>
<div class="c " style="left:30.8px;top:813.1px;width:61.9px;height:18.6px"><span>МТН412</span></div>
<div class="r" style="left:30.8px;top:811.10px;width:61.9px;height:1.0px;background:#4a4a4a"></div>
<div class="c " style="left:92.7px;top:794.5px;width:26.1px;height:18.6px"><span>917</span></div>
<div class="c " style="left:92.7px;top:813.1px;width:26.1px;height:18.6px"><span>967</span></div>
<div class="r" style="left:92.7px;top:811.10px;width:26.1px;height:1.0px;background:#4a4a4a"></div>
<div class="c " style="left:118.8px;top:794.5px;width:26.1px;height:37.2px"><span>18</span></div>
<div class="c " style="left:144.9px;top:794.5px;width:26.1px;height:37.2px"><span>400</span></div>
<div class="c " style="left:171.0px;top:794.5px;width:26.1px;height:37.2px"><span>350</span></div>
<div class="c " style="left:197.1px;top:794.5px;width:26.1px;height:37.2px"><span>300</span></div>
<div class="c " style="left:223.2px;top:794.5px;width:26.1px;height:37.2px"><span>105</span></div>
<div class="c " style="left:249.3px;top:794.5px;width:26.1px;height:37.2px"><span>140</span></div>
<div class="c n" style="left:275.4px;top:794.5px;width:26.1px;height:18.6px"><span>270,5</span></div>
<div class="c n" style="left:275.4px;top:813.1px;width:26.1px;height:18.6px"><span>245,5</span></div>
<div class="r" style="left:275.4px;top:811.10px;width:26.1px;height:1.0px;background:#4a4a4a"></div>
<div class="c " style="left:301.5px;top:794.5px;width:26.1px;height:18.6px"><span>335</span></div>
<div class="c " style="left:301.5px;top:813.1px;width:26.1px;height:18.6px"><span>420</span></div>
<div class="r" style="left:301.5px;top:811.10px;width:26.1px;height:1.0px;background:#4a4a4a"></div>
<div class="c " style="left:327.6px;top:794.5px;width:26.1px;height:37.2px"><span>225</span></div>
<div class="c " style="left:353.7px;top:794.5px;width:26.1px;height:37.2px"><span>330</span></div>
<div class="c " style="left:379.8px;top:794.5px;width:26.1px;height:37.2px"><span>28</span></div>
<div class="c " style="left:405.9px;top:794.5px;width:26.1px;height:37.2px"><span>16</span></div>
<div class="c " style="left:432.0px;top:790.5px;width:26.1px;height:37.2px"><span>М42<br>*3</span></div>
<div class="c " style="left:458.1px;top:794.5px;width:26.1px;height:37.2px"><span>65</span></div>
<div class="c n" style="left:484.2px;top:794.5px;width:26.1px;height:18.6px"><span>1060</span></div>
<div class="c n" style="left:484.2px;top:813.1px;width:26.1px;height:18.6px"><span>1110</span></div>
<div class="r" style="left:484.2px;top:811.10px;width:26.1px;height:1.0px;background:#4a4a4a"></div>
<div class="c " style="left:510.3px;top:794.5px;width:26.1px;height:18.6px"><span>175</span></div>
<div class="c " style="left:510.3px;top:813.1px;width:26.1px;height:18.6px"><span>165</span></div>
<div class="r" style="left:510.3px;top:811.10px;width:26.1px;height:1.0px;background:#4a4a4a"></div>
<div class="c " style="left:536.4px;top:794.5px;width:26.1px;height:37.2px"><span>5</span></div>
<div class="c " style="left:562.5px;top:794.5px;width:26.1px;height:37.2px"><span>10</span></div>
<div class="c " style="left:588.6px;top:794.5px;width:26.1px;height:37.2px"><span>23,9</span></div>
<div class="r" style="left:30.8px;top:604.00px;width:583.9px;height:1px;background:#bdbdbd"></div>
<div class="r" style="left:92.7px;top:620.50px;width:522.0px;height:1px;background:#6a6a6a"></div>
<div class="r" style="left:30.8px;top:648.20px;width:583.9px;height:1.6px;background:#8c8c8c"></div>
<div class="r" style="left:30.8px;top:663.50px;width:583.9px;height:1.0px;background:#4a4a4a"></div>
<div class="r" style="left:30.8px;top:700.50px;width:505.6px;height:1px;background:#6e6e6e"></div>
<div class="r" style="left:30.8px;top:737.90px;width:505.6px;height:1px;background:#6e6e6e"></div>
<div class="r" style="left:30.8px;top:756.00px;width:505.6px;height:1px;background:#6e6e6e"></div>
<div class="r" style="left:30.8px;top:792.50px;width:505.6px;height:1px;background:#6e6e6e"></div>
<div class="r" style="left:30.8px;top:829.60px;width:583.9px;height:1.2px;background:#555"></div>
<div class="r" style="left:91.90px;top:604.5px;width:1.6px;height:59.5px;background:#555"></div>
<div class="r" style="left:92.05px;top:664.0px;width:1.3px;height:166.2px;background:#8a8a8a"></div>
<div class="r" style="left:118.25px;top:621.0px;width:1.1px;height:43.0px;background:#5a5a5a"></div>
<div class="r" style="left:118.30px;top:664.0px;width:1.0px;height:166.2px;background:#6a6a6a"></div>
<div class="r" style="left:144.35px;top:621.0px;width:1.1px;height:43.0px;background:#5a5a5a"></div>
<div class="r" style="left:144.40px;top:664.0px;width:1.0px;height:166.2px;background:#6a6a6a"></div>
<div class="r" style="left:170.45px;top:621.0px;width:1.1px;height:43.0px;background:#5a5a5a"></div>
<div class="r" style="left:170.50px;top:664.0px;width:1.0px;height:166.2px;background:#6a6a6a"></div>
<div class="r" style="left:196.55px;top:621.0px;width:1.1px;height:43.0px;background:#5a5a5a"></div>
<div class="r" style="left:196.60px;top:664.0px;width:1.0px;height:166.2px;background:#6a6a6a"></div>
<div class="r" style="left:222.65px;top:621.0px;width:1.1px;height:43.0px;background:#5a5a5a"></div>
<div class="r" style="left:222.70px;top:664.0px;width:1.0px;height:166.2px;background:#6a6a6a"></div>
<div class="r" style="left:248.75px;top:621.0px;width:1.1px;height:43.0px;background:#5a5a5a"></div>
<div class="r" style="left:248.80px;top:664.0px;width:1.0px;height:166.2px;background:#6a6a6a"></div>
<div class="r" style="left:274.85px;top:621.0px;width:1.1px;height:43.0px;background:#5a5a5a"></div>
<div class="r" style="left:274.90px;top:664.0px;width:1.0px;height:166.2px;background:#6a6a6a"></div>
<div class="r" style="left:300.95px;top:621.0px;width:1.1px;height:43.0px;background:#5a5a5a"></div>
<div class="r" style="left:301.00px;top:664.0px;width:1.0px;height:166.2px;background:#6a6a6a"></div>
<div class="r" style="left:327.05px;top:621.0px;width:1.1px;height:43.0px;background:#5a5a5a"></div>
<div class="r" style="left:327.10px;top:664.0px;width:1.0px;height:166.2px;background:#6a6a6a"></div>
<div class="r" style="left:353.15px;top:621.0px;width:1.1px;height:43.0px;background:#5a5a5a"></div>
<div class="r" style="left:353.20px;top:664.0px;width:1.0px;height:166.2px;background:#6a6a6a"></div>
<div class="r" style="left:379.25px;top:621.0px;width:1.1px;height:43.0px;background:#5a5a5a"></div>
<div class="r" style="left:379.30px;top:664.0px;width:1.0px;height:166.2px;background:#6a6a6a"></div>
<div class="r" style="left:405.35px;top:621.0px;width:1.1px;height:43.0px;background:#5a5a5a"></div>
<div class="r" style="left:405.40px;top:664.0px;width:1.0px;height:166.2px;background:#6a6a6a"></div>
<div class="r" style="left:431.45px;top:621.0px;width:1.1px;height:43.0px;background:#5a5a5a"></div>
<div class="r" style="left:431.50px;top:664.0px;width:1.0px;height:166.2px;background:#6a6a6a"></div>
<div class="r" style="left:457.55px;top:621.0px;width:1.1px;height:43.0px;background:#5a5a5a"></div>
<div class="r" style="left:457.60px;top:664.0px;width:1.0px;height:166.2px;background:#6a6a6a"></div>
<div class="r" style="left:483.65px;top:621.0px;width:1.1px;height:43.0px;background:#5a5a5a"></div>
<div class="r" style="left:483.70px;top:664.0px;width:1.0px;height:166.2px;background:#6a6a6a"></div>
<div class="r" style="left:509.75px;top:621.0px;width:1.1px;height:43.0px;background:#5a5a5a"></div>
<div class="r" style="left:509.80px;top:664.0px;width:1.0px;height:166.2px;background:#6a6a6a"></div>
<div class="r" style="left:535.85px;top:621.0px;width:1.1px;height:43.0px;background:#5a5a5a"></div>
<div class="r" style="left:535.90px;top:664.0px;width:1.0px;height:166.2px;background:#6a6a6a"></div>
<div class="r" style="left:561.95px;top:621.0px;width:1.1px;height:43.0px;background:#5a5a5a"></div>
<div class="r" style="left:561.95px;top:664.0px;width:1.1px;height:166.2px;background:#9a9a9a"></div>
<div class="r" style="left:588.05px;top:621.0px;width:1.1px;height:43.0px;background:#5a5a5a"></div>
<div class="r" style="left:588.05px;top:664.0px;width:1.1px;height:166.2px;background:#707070"></div>
<!--TB1--></div>
</body></html>
